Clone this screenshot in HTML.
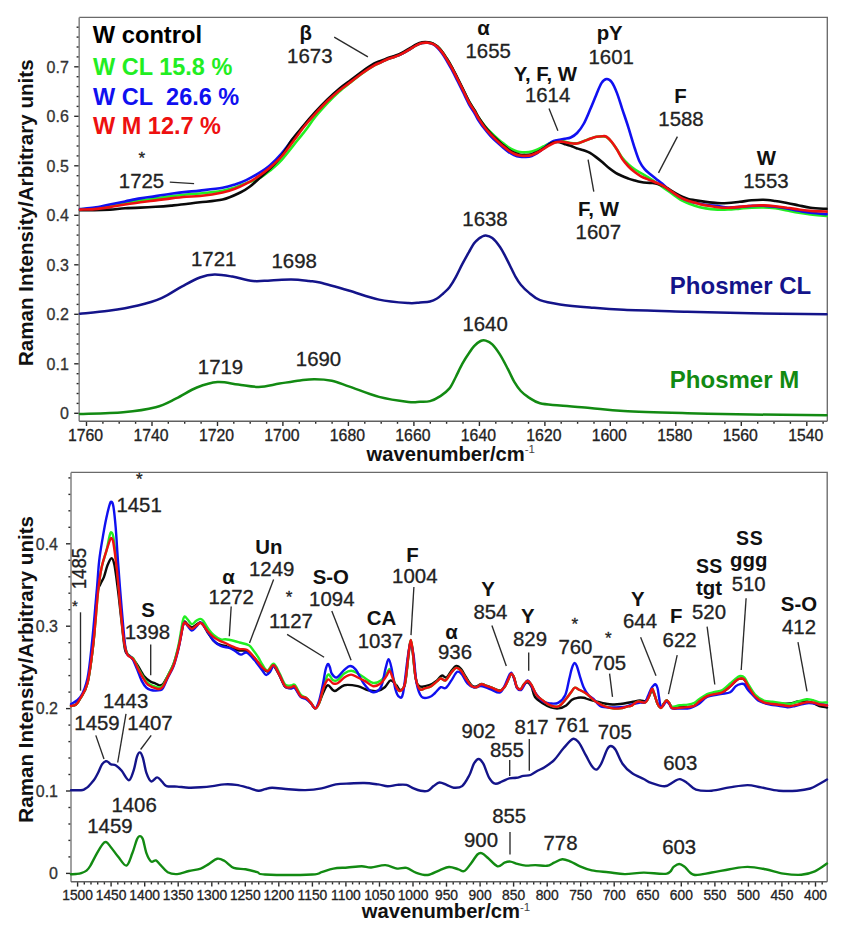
<!DOCTYPE html>
<html><head><meta charset="utf-8"><title>Raman spectra</title>
<style>html,body{margin:0;padding:0;background:#fff;}svg{display:block;font-family:"Liberation Sans",sans-serif;}</style>
</head><body>
<svg width="848" height="934" viewBox="0 0 848 934" font-family='"Liberation Sans", sans-serif'>
<rect width="848" height="934" fill="#fff"/>
<line x1="74.2" y1="413.3" x2="79.2" y2="413.3" stroke="#2a2a2a" stroke-width="1.40"/>
<line x1="76.6" y1="403.4" x2="79.2" y2="403.4" stroke="#2a2a2a" stroke-width="1.40"/>
<line x1="76.6" y1="393.5" x2="79.2" y2="393.5" stroke="#2a2a2a" stroke-width="1.40"/>
<line x1="76.6" y1="383.6" x2="79.2" y2="383.6" stroke="#2a2a2a" stroke-width="1.40"/>
<line x1="76.6" y1="373.7" x2="79.2" y2="373.7" stroke="#2a2a2a" stroke-width="1.40"/>
<line x1="74.2" y1="363.8" x2="79.2" y2="363.8" stroke="#2a2a2a" stroke-width="1.40"/>
<line x1="76.6" y1="353.9" x2="79.2" y2="353.9" stroke="#2a2a2a" stroke-width="1.40"/>
<line x1="76.6" y1="344.0" x2="79.2" y2="344.0" stroke="#2a2a2a" stroke-width="1.40"/>
<line x1="76.6" y1="334.1" x2="79.2" y2="334.1" stroke="#2a2a2a" stroke-width="1.40"/>
<line x1="76.6" y1="324.2" x2="79.2" y2="324.2" stroke="#2a2a2a" stroke-width="1.40"/>
<line x1="74.2" y1="314.3" x2="79.2" y2="314.3" stroke="#2a2a2a" stroke-width="1.40"/>
<line x1="76.6" y1="304.4" x2="79.2" y2="304.4" stroke="#2a2a2a" stroke-width="1.40"/>
<line x1="76.6" y1="294.5" x2="79.2" y2="294.5" stroke="#2a2a2a" stroke-width="1.40"/>
<line x1="76.6" y1="284.6" x2="79.2" y2="284.6" stroke="#2a2a2a" stroke-width="1.40"/>
<line x1="76.6" y1="274.7" x2="79.2" y2="274.7" stroke="#2a2a2a" stroke-width="1.40"/>
<line x1="74.2" y1="264.8" x2="79.2" y2="264.8" stroke="#2a2a2a" stroke-width="1.40"/>
<line x1="76.6" y1="254.9" x2="79.2" y2="254.9" stroke="#2a2a2a" stroke-width="1.40"/>
<line x1="76.6" y1="245.0" x2="79.2" y2="245.0" stroke="#2a2a2a" stroke-width="1.40"/>
<line x1="76.6" y1="235.1" x2="79.2" y2="235.1" stroke="#2a2a2a" stroke-width="1.40"/>
<line x1="76.6" y1="225.2" x2="79.2" y2="225.2" stroke="#2a2a2a" stroke-width="1.40"/>
<line x1="74.2" y1="215.3" x2="79.2" y2="215.3" stroke="#2a2a2a" stroke-width="1.40"/>
<line x1="76.6" y1="205.4" x2="79.2" y2="205.4" stroke="#2a2a2a" stroke-width="1.40"/>
<line x1="76.6" y1="195.5" x2="79.2" y2="195.5" stroke="#2a2a2a" stroke-width="1.40"/>
<line x1="76.6" y1="185.6" x2="79.2" y2="185.6" stroke="#2a2a2a" stroke-width="1.40"/>
<line x1="76.6" y1="175.7" x2="79.2" y2="175.7" stroke="#2a2a2a" stroke-width="1.40"/>
<line x1="74.2" y1="165.8" x2="79.2" y2="165.8" stroke="#2a2a2a" stroke-width="1.40"/>
<line x1="76.6" y1="155.9" x2="79.2" y2="155.9" stroke="#2a2a2a" stroke-width="1.40"/>
<line x1="76.6" y1="146.0" x2="79.2" y2="146.0" stroke="#2a2a2a" stroke-width="1.40"/>
<line x1="76.6" y1="136.1" x2="79.2" y2="136.1" stroke="#2a2a2a" stroke-width="1.40"/>
<line x1="76.6" y1="126.2" x2="79.2" y2="126.2" stroke="#2a2a2a" stroke-width="1.40"/>
<line x1="74.2" y1="116.3" x2="79.2" y2="116.3" stroke="#2a2a2a" stroke-width="1.40"/>
<line x1="76.6" y1="106.4" x2="79.2" y2="106.4" stroke="#2a2a2a" stroke-width="1.40"/>
<line x1="76.6" y1="96.5" x2="79.2" y2="96.5" stroke="#2a2a2a" stroke-width="1.40"/>
<line x1="76.6" y1="86.6" x2="79.2" y2="86.6" stroke="#2a2a2a" stroke-width="1.40"/>
<line x1="76.6" y1="76.7" x2="79.2" y2="76.7" stroke="#2a2a2a" stroke-width="1.40"/>
<line x1="74.2" y1="66.8" x2="79.2" y2="66.8" stroke="#2a2a2a" stroke-width="1.40"/>
<line x1="76.6" y1="56.9" x2="79.2" y2="56.9" stroke="#2a2a2a" stroke-width="1.40"/>
<line x1="76.6" y1="47.0" x2="79.2" y2="47.0" stroke="#2a2a2a" stroke-width="1.40"/>
<line x1="76.6" y1="37.1" x2="79.2" y2="37.1" stroke="#2a2a2a" stroke-width="1.40"/>
<line x1="76.6" y1="27.2" x2="79.2" y2="27.2" stroke="#2a2a2a" stroke-width="1.40"/>
<text x="68.8" y="419.1" font-size="16.0" stroke="#333" stroke-width="0.3" fill="#333" text-anchor="end">0</text>
<text x="68.8" y="369.6" font-size="16.0" stroke="#333" stroke-width="0.3" fill="#333" text-anchor="end">0.1</text>
<text x="68.8" y="320.1" font-size="16.0" stroke="#333" stroke-width="0.3" fill="#333" text-anchor="end">0.2</text>
<text x="68.8" y="270.6" font-size="16.0" stroke="#333" stroke-width="0.3" fill="#333" text-anchor="end">0.3</text>
<text x="68.8" y="221.1" font-size="16.0" stroke="#333" stroke-width="0.3" fill="#333" text-anchor="end">0.4</text>
<text x="68.8" y="171.6" font-size="16.0" stroke="#333" stroke-width="0.3" fill="#333" text-anchor="end">0.5</text>
<text x="68.8" y="122.1" font-size="16.0" stroke="#333" stroke-width="0.3" fill="#333" text-anchor="end">0.6</text>
<text x="68.8" y="72.6" font-size="16.0" stroke="#333" stroke-width="0.3" fill="#333" text-anchor="end">0.7</text>
<line x1="86.5" y1="421.2" x2="86.5" y2="426.0" stroke="#2a2a2a" stroke-width="1.40"/>
<text x="85.5" y="441.0" font-size="15.8" stroke="#222" stroke-width="0.3" fill="#222" text-anchor="middle">1760</text>
<line x1="102.9" y1="421.2" x2="102.9" y2="423.8" stroke="#2a2a2a" stroke-width="1.40"/>
<line x1="119.2" y1="421.2" x2="119.2" y2="423.8" stroke="#2a2a2a" stroke-width="1.40"/>
<line x1="135.6" y1="421.2" x2="135.6" y2="423.8" stroke="#2a2a2a" stroke-width="1.40"/>
<line x1="152.0" y1="421.2" x2="152.0" y2="426.0" stroke="#2a2a2a" stroke-width="1.40"/>
<text x="151.0" y="441.0" font-size="15.8" stroke="#222" stroke-width="0.3" fill="#222" text-anchor="middle">1740</text>
<line x1="168.3" y1="421.2" x2="168.3" y2="423.8" stroke="#2a2a2a" stroke-width="1.40"/>
<line x1="184.7" y1="421.2" x2="184.7" y2="423.8" stroke="#2a2a2a" stroke-width="1.40"/>
<line x1="201.1" y1="421.2" x2="201.1" y2="423.8" stroke="#2a2a2a" stroke-width="1.40"/>
<line x1="217.5" y1="421.2" x2="217.5" y2="426.0" stroke="#2a2a2a" stroke-width="1.40"/>
<text x="216.5" y="441.0" font-size="15.8" stroke="#222" stroke-width="0.3" fill="#222" text-anchor="middle">1720</text>
<line x1="233.8" y1="421.2" x2="233.8" y2="423.8" stroke="#2a2a2a" stroke-width="1.40"/>
<line x1="250.2" y1="421.2" x2="250.2" y2="423.8" stroke="#2a2a2a" stroke-width="1.40"/>
<line x1="266.6" y1="421.2" x2="266.6" y2="423.8" stroke="#2a2a2a" stroke-width="1.40"/>
<line x1="282.9" y1="421.2" x2="282.9" y2="426.0" stroke="#2a2a2a" stroke-width="1.40"/>
<text x="281.9" y="441.0" font-size="15.8" stroke="#222" stroke-width="0.3" fill="#222" text-anchor="middle">1700</text>
<line x1="299.3" y1="421.2" x2="299.3" y2="423.8" stroke="#2a2a2a" stroke-width="1.40"/>
<line x1="315.7" y1="421.2" x2="315.7" y2="423.8" stroke="#2a2a2a" stroke-width="1.40"/>
<line x1="332.1" y1="421.2" x2="332.1" y2="423.8" stroke="#2a2a2a" stroke-width="1.40"/>
<line x1="348.4" y1="421.2" x2="348.4" y2="426.0" stroke="#2a2a2a" stroke-width="1.40"/>
<text x="347.4" y="441.0" font-size="15.8" stroke="#222" stroke-width="0.3" fill="#222" text-anchor="middle">1680</text>
<line x1="364.8" y1="421.2" x2="364.8" y2="423.8" stroke="#2a2a2a" stroke-width="1.40"/>
<line x1="381.2" y1="421.2" x2="381.2" y2="423.8" stroke="#2a2a2a" stroke-width="1.40"/>
<line x1="397.5" y1="421.2" x2="397.5" y2="423.8" stroke="#2a2a2a" stroke-width="1.40"/>
<line x1="413.9" y1="421.2" x2="413.9" y2="426.0" stroke="#2a2a2a" stroke-width="1.40"/>
<text x="412.9" y="441.0" font-size="15.8" stroke="#222" stroke-width="0.3" fill="#222" text-anchor="middle">1660</text>
<line x1="430.3" y1="421.2" x2="430.3" y2="423.8" stroke="#2a2a2a" stroke-width="1.40"/>
<line x1="446.6" y1="421.2" x2="446.6" y2="423.8" stroke="#2a2a2a" stroke-width="1.40"/>
<line x1="463.0" y1="421.2" x2="463.0" y2="423.8" stroke="#2a2a2a" stroke-width="1.40"/>
<line x1="479.4" y1="421.2" x2="479.4" y2="426.0" stroke="#2a2a2a" stroke-width="1.40"/>
<text x="478.4" y="441.0" font-size="15.8" stroke="#222" stroke-width="0.3" fill="#222" text-anchor="middle">1640</text>
<line x1="495.8" y1="421.2" x2="495.8" y2="423.8" stroke="#2a2a2a" stroke-width="1.40"/>
<line x1="512.1" y1="421.2" x2="512.1" y2="423.8" stroke="#2a2a2a" stroke-width="1.40"/>
<line x1="528.5" y1="421.2" x2="528.5" y2="423.8" stroke="#2a2a2a" stroke-width="1.40"/>
<line x1="544.9" y1="421.2" x2="544.9" y2="426.0" stroke="#2a2a2a" stroke-width="1.40"/>
<text x="543.9" y="441.0" font-size="15.8" stroke="#222" stroke-width="0.3" fill="#222" text-anchor="middle">1620</text>
<line x1="561.2" y1="421.2" x2="561.2" y2="423.8" stroke="#2a2a2a" stroke-width="1.40"/>
<line x1="577.6" y1="421.2" x2="577.6" y2="423.8" stroke="#2a2a2a" stroke-width="1.40"/>
<line x1="594.0" y1="421.2" x2="594.0" y2="423.8" stroke="#2a2a2a" stroke-width="1.40"/>
<line x1="610.3" y1="421.2" x2="610.3" y2="426.0" stroke="#2a2a2a" stroke-width="1.40"/>
<text x="609.3" y="441.0" font-size="15.8" stroke="#222" stroke-width="0.3" fill="#222" text-anchor="middle">1600</text>
<line x1="626.7" y1="421.2" x2="626.7" y2="423.8" stroke="#2a2a2a" stroke-width="1.40"/>
<line x1="643.1" y1="421.2" x2="643.1" y2="423.8" stroke="#2a2a2a" stroke-width="1.40"/>
<line x1="659.5" y1="421.2" x2="659.5" y2="423.8" stroke="#2a2a2a" stroke-width="1.40"/>
<line x1="675.8" y1="421.2" x2="675.8" y2="426.0" stroke="#2a2a2a" stroke-width="1.40"/>
<text x="674.8" y="441.0" font-size="15.8" stroke="#222" stroke-width="0.3" fill="#222" text-anchor="middle">1580</text>
<line x1="692.2" y1="421.2" x2="692.2" y2="423.8" stroke="#2a2a2a" stroke-width="1.40"/>
<line x1="708.6" y1="421.2" x2="708.6" y2="423.8" stroke="#2a2a2a" stroke-width="1.40"/>
<line x1="724.9" y1="421.2" x2="724.9" y2="423.8" stroke="#2a2a2a" stroke-width="1.40"/>
<line x1="741.3" y1="421.2" x2="741.3" y2="426.0" stroke="#2a2a2a" stroke-width="1.40"/>
<text x="740.3" y="441.0" font-size="15.8" stroke="#222" stroke-width="0.3" fill="#222" text-anchor="middle">1560</text>
<line x1="757.7" y1="421.2" x2="757.7" y2="423.8" stroke="#2a2a2a" stroke-width="1.40"/>
<line x1="774.0" y1="421.2" x2="774.0" y2="423.8" stroke="#2a2a2a" stroke-width="1.40"/>
<line x1="790.4" y1="421.2" x2="790.4" y2="423.8" stroke="#2a2a2a" stroke-width="1.40"/>
<line x1="806.8" y1="421.2" x2="806.8" y2="426.0" stroke="#2a2a2a" stroke-width="1.40"/>
<text x="805.8" y="441.0" font-size="15.8" stroke="#222" stroke-width="0.3" fill="#222" text-anchor="middle">1540</text>
<line x1="823.1" y1="421.2" x2="823.1" y2="423.8" stroke="#2a2a2a" stroke-width="1.40"/>
<line x1="66.0" y1="873.4" x2="71.0" y2="873.4" stroke="#2a2a2a" stroke-width="1.40"/>
<line x1="68.4" y1="856.9" x2="71.0" y2="856.9" stroke="#2a2a2a" stroke-width="1.40"/>
<line x1="68.4" y1="840.4" x2="71.0" y2="840.4" stroke="#2a2a2a" stroke-width="1.40"/>
<line x1="68.4" y1="824.0" x2="71.0" y2="824.0" stroke="#2a2a2a" stroke-width="1.40"/>
<line x1="68.4" y1="807.5" x2="71.0" y2="807.5" stroke="#2a2a2a" stroke-width="1.40"/>
<line x1="66.0" y1="791.0" x2="71.0" y2="791.0" stroke="#2a2a2a" stroke-width="1.40"/>
<line x1="68.4" y1="774.5" x2="71.0" y2="774.5" stroke="#2a2a2a" stroke-width="1.40"/>
<line x1="68.4" y1="758.0" x2="71.0" y2="758.0" stroke="#2a2a2a" stroke-width="1.40"/>
<line x1="68.4" y1="741.6" x2="71.0" y2="741.6" stroke="#2a2a2a" stroke-width="1.40"/>
<line x1="68.4" y1="725.1" x2="71.0" y2="725.1" stroke="#2a2a2a" stroke-width="1.40"/>
<line x1="66.0" y1="708.6" x2="71.0" y2="708.6" stroke="#2a2a2a" stroke-width="1.40"/>
<line x1="68.4" y1="692.1" x2="71.0" y2="692.1" stroke="#2a2a2a" stroke-width="1.40"/>
<line x1="68.4" y1="675.6" x2="71.0" y2="675.6" stroke="#2a2a2a" stroke-width="1.40"/>
<line x1="68.4" y1="659.2" x2="71.0" y2="659.2" stroke="#2a2a2a" stroke-width="1.40"/>
<line x1="68.4" y1="642.7" x2="71.0" y2="642.7" stroke="#2a2a2a" stroke-width="1.40"/>
<line x1="66.0" y1="626.2" x2="71.0" y2="626.2" stroke="#2a2a2a" stroke-width="1.40"/>
<line x1="68.4" y1="609.7" x2="71.0" y2="609.7" stroke="#2a2a2a" stroke-width="1.40"/>
<line x1="68.4" y1="593.2" x2="71.0" y2="593.2" stroke="#2a2a2a" stroke-width="1.40"/>
<line x1="68.4" y1="576.8" x2="71.0" y2="576.8" stroke="#2a2a2a" stroke-width="1.40"/>
<line x1="68.4" y1="560.3" x2="71.0" y2="560.3" stroke="#2a2a2a" stroke-width="1.40"/>
<line x1="66.0" y1="543.8" x2="71.0" y2="543.8" stroke="#2a2a2a" stroke-width="1.40"/>
<line x1="68.4" y1="527.3" x2="71.0" y2="527.3" stroke="#2a2a2a" stroke-width="1.40"/>
<line x1="68.4" y1="510.8" x2="71.0" y2="510.8" stroke="#2a2a2a" stroke-width="1.40"/>
<line x1="68.4" y1="494.4" x2="71.0" y2="494.4" stroke="#2a2a2a" stroke-width="1.40"/>
<line x1="68.4" y1="477.9" x2="71.0" y2="477.9" stroke="#2a2a2a" stroke-width="1.40"/>
<text x="58.0" y="879.2" font-size="16.0" stroke="#333" stroke-width="0.3" fill="#333" text-anchor="end">0</text>
<text x="58.0" y="796.8" font-size="16.0" stroke="#333" stroke-width="0.3" fill="#333" text-anchor="end">0.1</text>
<text x="58.0" y="714.4" font-size="16.0" stroke="#333" stroke-width="0.3" fill="#333" text-anchor="end">0.2</text>
<text x="58.0" y="632.0" font-size="16.0" stroke="#333" stroke-width="0.3" fill="#333" text-anchor="end">0.3</text>
<text x="58.0" y="549.6" font-size="16.0" stroke="#333" stroke-width="0.3" fill="#333" text-anchor="end">0.4</text>
<line x1="77.6" y1="881.8" x2="77.6" y2="886.6" stroke="#2a2a2a" stroke-width="1.40"/>
<text x="77.6" y="899.6" font-size="13.8" stroke="#222" stroke-width="0.3" fill="#222" text-anchor="middle">1500</text>
<line x1="84.3" y1="881.8" x2="84.3" y2="884.4" stroke="#2a2a2a" stroke-width="1.40"/>
<line x1="91.0" y1="881.8" x2="91.0" y2="884.4" stroke="#2a2a2a" stroke-width="1.40"/>
<line x1="97.7" y1="881.8" x2="97.7" y2="884.4" stroke="#2a2a2a" stroke-width="1.40"/>
<line x1="104.4" y1="881.8" x2="104.4" y2="884.4" stroke="#2a2a2a" stroke-width="1.40"/>
<line x1="111.1" y1="881.8" x2="111.1" y2="886.6" stroke="#2a2a2a" stroke-width="1.40"/>
<text x="111.1" y="899.6" font-size="13.8" stroke="#222" stroke-width="0.3" fill="#222" text-anchor="middle">1450</text>
<line x1="117.8" y1="881.8" x2="117.8" y2="884.4" stroke="#2a2a2a" stroke-width="1.40"/>
<line x1="124.6" y1="881.8" x2="124.6" y2="884.4" stroke="#2a2a2a" stroke-width="1.40"/>
<line x1="131.3" y1="881.8" x2="131.3" y2="884.4" stroke="#2a2a2a" stroke-width="1.40"/>
<line x1="138.0" y1="881.8" x2="138.0" y2="884.4" stroke="#2a2a2a" stroke-width="1.40"/>
<line x1="144.7" y1="881.8" x2="144.7" y2="886.6" stroke="#2a2a2a" stroke-width="1.40"/>
<text x="144.7" y="899.6" font-size="13.8" stroke="#222" stroke-width="0.3" fill="#222" text-anchor="middle">1400</text>
<line x1="151.4" y1="881.8" x2="151.4" y2="884.4" stroke="#2a2a2a" stroke-width="1.40"/>
<line x1="158.1" y1="881.8" x2="158.1" y2="884.4" stroke="#2a2a2a" stroke-width="1.40"/>
<line x1="164.8" y1="881.8" x2="164.8" y2="884.4" stroke="#2a2a2a" stroke-width="1.40"/>
<line x1="171.5" y1="881.8" x2="171.5" y2="884.4" stroke="#2a2a2a" stroke-width="1.40"/>
<line x1="178.2" y1="881.8" x2="178.2" y2="886.6" stroke="#2a2a2a" stroke-width="1.40"/>
<text x="178.2" y="899.6" font-size="13.8" stroke="#222" stroke-width="0.3" fill="#222" text-anchor="middle">1350</text>
<line x1="184.9" y1="881.8" x2="184.9" y2="884.4" stroke="#2a2a2a" stroke-width="1.40"/>
<line x1="191.6" y1="881.8" x2="191.6" y2="884.4" stroke="#2a2a2a" stroke-width="1.40"/>
<line x1="198.3" y1="881.8" x2="198.3" y2="884.4" stroke="#2a2a2a" stroke-width="1.40"/>
<line x1="205.1" y1="881.8" x2="205.1" y2="884.4" stroke="#2a2a2a" stroke-width="1.40"/>
<line x1="211.8" y1="881.8" x2="211.8" y2="886.6" stroke="#2a2a2a" stroke-width="1.40"/>
<text x="211.8" y="899.6" font-size="13.8" stroke="#222" stroke-width="0.3" fill="#222" text-anchor="middle">1300</text>
<line x1="218.5" y1="881.8" x2="218.5" y2="884.4" stroke="#2a2a2a" stroke-width="1.40"/>
<line x1="225.2" y1="881.8" x2="225.2" y2="884.4" stroke="#2a2a2a" stroke-width="1.40"/>
<line x1="231.9" y1="881.8" x2="231.9" y2="884.4" stroke="#2a2a2a" stroke-width="1.40"/>
<line x1="238.6" y1="881.8" x2="238.6" y2="884.4" stroke="#2a2a2a" stroke-width="1.40"/>
<line x1="245.3" y1="881.8" x2="245.3" y2="886.6" stroke="#2a2a2a" stroke-width="1.40"/>
<text x="245.3" y="899.6" font-size="13.8" stroke="#222" stroke-width="0.3" fill="#222" text-anchor="middle">1250</text>
<line x1="252.0" y1="881.8" x2="252.0" y2="884.4" stroke="#2a2a2a" stroke-width="1.40"/>
<line x1="258.7" y1="881.8" x2="258.7" y2="884.4" stroke="#2a2a2a" stroke-width="1.40"/>
<line x1="265.4" y1="881.8" x2="265.4" y2="884.4" stroke="#2a2a2a" stroke-width="1.40"/>
<line x1="272.1" y1="881.8" x2="272.1" y2="884.4" stroke="#2a2a2a" stroke-width="1.40"/>
<line x1="278.8" y1="881.8" x2="278.8" y2="886.6" stroke="#2a2a2a" stroke-width="1.40"/>
<text x="278.8" y="899.6" font-size="13.8" stroke="#222" stroke-width="0.3" fill="#222" text-anchor="middle">1200</text>
<line x1="285.5" y1="881.8" x2="285.5" y2="884.4" stroke="#2a2a2a" stroke-width="1.40"/>
<line x1="292.3" y1="881.8" x2="292.3" y2="884.4" stroke="#2a2a2a" stroke-width="1.40"/>
<line x1="299.0" y1="881.8" x2="299.0" y2="884.4" stroke="#2a2a2a" stroke-width="1.40"/>
<line x1="305.7" y1="881.8" x2="305.7" y2="884.4" stroke="#2a2a2a" stroke-width="1.40"/>
<line x1="312.4" y1="881.8" x2="312.4" y2="886.6" stroke="#2a2a2a" stroke-width="1.40"/>
<text x="312.4" y="899.6" font-size="13.8" stroke="#222" stroke-width="0.3" fill="#222" text-anchor="middle">1150</text>
<line x1="319.1" y1="881.8" x2="319.1" y2="884.4" stroke="#2a2a2a" stroke-width="1.40"/>
<line x1="325.8" y1="881.8" x2="325.8" y2="884.4" stroke="#2a2a2a" stroke-width="1.40"/>
<line x1="332.5" y1="881.8" x2="332.5" y2="884.4" stroke="#2a2a2a" stroke-width="1.40"/>
<line x1="339.2" y1="881.8" x2="339.2" y2="884.4" stroke="#2a2a2a" stroke-width="1.40"/>
<line x1="345.9" y1="881.8" x2="345.9" y2="886.6" stroke="#2a2a2a" stroke-width="1.40"/>
<text x="345.9" y="899.6" font-size="13.8" stroke="#222" stroke-width="0.3" fill="#222" text-anchor="middle">1100</text>
<line x1="352.6" y1="881.8" x2="352.6" y2="884.4" stroke="#2a2a2a" stroke-width="1.40"/>
<line x1="359.3" y1="881.8" x2="359.3" y2="884.4" stroke="#2a2a2a" stroke-width="1.40"/>
<line x1="366.0" y1="881.8" x2="366.0" y2="884.4" stroke="#2a2a2a" stroke-width="1.40"/>
<line x1="372.8" y1="881.8" x2="372.8" y2="884.4" stroke="#2a2a2a" stroke-width="1.40"/>
<line x1="379.5" y1="881.8" x2="379.5" y2="886.6" stroke="#2a2a2a" stroke-width="1.40"/>
<text x="379.5" y="899.6" font-size="13.8" stroke="#222" stroke-width="0.3" fill="#222" text-anchor="middle">1050</text>
<line x1="386.2" y1="881.8" x2="386.2" y2="884.4" stroke="#2a2a2a" stroke-width="1.40"/>
<line x1="392.9" y1="881.8" x2="392.9" y2="884.4" stroke="#2a2a2a" stroke-width="1.40"/>
<line x1="399.6" y1="881.8" x2="399.6" y2="884.4" stroke="#2a2a2a" stroke-width="1.40"/>
<line x1="406.3" y1="881.8" x2="406.3" y2="884.4" stroke="#2a2a2a" stroke-width="1.40"/>
<line x1="413.0" y1="881.8" x2="413.0" y2="886.6" stroke="#2a2a2a" stroke-width="1.40"/>
<text x="413.0" y="899.6" font-size="13.8" stroke="#222" stroke-width="0.3" fill="#222" text-anchor="middle">1000</text>
<line x1="419.7" y1="881.8" x2="419.7" y2="884.4" stroke="#2a2a2a" stroke-width="1.40"/>
<line x1="426.4" y1="881.8" x2="426.4" y2="884.4" stroke="#2a2a2a" stroke-width="1.40"/>
<line x1="433.1" y1="881.8" x2="433.1" y2="884.4" stroke="#2a2a2a" stroke-width="1.40"/>
<line x1="439.8" y1="881.8" x2="439.8" y2="884.4" stroke="#2a2a2a" stroke-width="1.40"/>
<line x1="446.5" y1="881.8" x2="446.5" y2="886.6" stroke="#2a2a2a" stroke-width="1.40"/>
<text x="446.5" y="899.6" font-size="13.8" stroke="#222" stroke-width="0.3" fill="#222" text-anchor="middle">950</text>
<line x1="453.2" y1="881.8" x2="453.2" y2="884.4" stroke="#2a2a2a" stroke-width="1.40"/>
<line x1="460.0" y1="881.8" x2="460.0" y2="884.4" stroke="#2a2a2a" stroke-width="1.40"/>
<line x1="466.7" y1="881.8" x2="466.7" y2="884.4" stroke="#2a2a2a" stroke-width="1.40"/>
<line x1="473.4" y1="881.8" x2="473.4" y2="884.4" stroke="#2a2a2a" stroke-width="1.40"/>
<line x1="480.1" y1="881.8" x2="480.1" y2="886.6" stroke="#2a2a2a" stroke-width="1.40"/>
<text x="480.1" y="899.6" font-size="13.8" stroke="#222" stroke-width="0.3" fill="#222" text-anchor="middle">900</text>
<line x1="486.8" y1="881.8" x2="486.8" y2="884.4" stroke="#2a2a2a" stroke-width="1.40"/>
<line x1="493.5" y1="881.8" x2="493.5" y2="884.4" stroke="#2a2a2a" stroke-width="1.40"/>
<line x1="500.2" y1="881.8" x2="500.2" y2="884.4" stroke="#2a2a2a" stroke-width="1.40"/>
<line x1="506.9" y1="881.8" x2="506.9" y2="884.4" stroke="#2a2a2a" stroke-width="1.40"/>
<line x1="513.6" y1="881.8" x2="513.6" y2="886.6" stroke="#2a2a2a" stroke-width="1.40"/>
<text x="513.6" y="899.6" font-size="13.8" stroke="#222" stroke-width="0.3" fill="#222" text-anchor="middle">850</text>
<line x1="520.3" y1="881.8" x2="520.3" y2="884.4" stroke="#2a2a2a" stroke-width="1.40"/>
<line x1="527.0" y1="881.8" x2="527.0" y2="884.4" stroke="#2a2a2a" stroke-width="1.40"/>
<line x1="533.7" y1="881.8" x2="533.7" y2="884.4" stroke="#2a2a2a" stroke-width="1.40"/>
<line x1="540.5" y1="881.8" x2="540.5" y2="884.4" stroke="#2a2a2a" stroke-width="1.40"/>
<line x1="547.2" y1="881.8" x2="547.2" y2="886.6" stroke="#2a2a2a" stroke-width="1.40"/>
<text x="547.2" y="899.6" font-size="13.8" stroke="#222" stroke-width="0.3" fill="#222" text-anchor="middle">800</text>
<line x1="553.9" y1="881.8" x2="553.9" y2="884.4" stroke="#2a2a2a" stroke-width="1.40"/>
<line x1="560.6" y1="881.8" x2="560.6" y2="884.4" stroke="#2a2a2a" stroke-width="1.40"/>
<line x1="567.3" y1="881.8" x2="567.3" y2="884.4" stroke="#2a2a2a" stroke-width="1.40"/>
<line x1="574.0" y1="881.8" x2="574.0" y2="884.4" stroke="#2a2a2a" stroke-width="1.40"/>
<line x1="580.7" y1="881.8" x2="580.7" y2="886.6" stroke="#2a2a2a" stroke-width="1.40"/>
<text x="580.7" y="899.6" font-size="13.8" stroke="#222" stroke-width="0.3" fill="#222" text-anchor="middle">750</text>
<line x1="587.4" y1="881.8" x2="587.4" y2="884.4" stroke="#2a2a2a" stroke-width="1.40"/>
<line x1="594.1" y1="881.8" x2="594.1" y2="884.4" stroke="#2a2a2a" stroke-width="1.40"/>
<line x1="600.8" y1="881.8" x2="600.8" y2="884.4" stroke="#2a2a2a" stroke-width="1.40"/>
<line x1="607.5" y1="881.8" x2="607.5" y2="884.4" stroke="#2a2a2a" stroke-width="1.40"/>
<line x1="614.2" y1="881.8" x2="614.2" y2="886.6" stroke="#2a2a2a" stroke-width="1.40"/>
<text x="614.2" y="899.6" font-size="13.8" stroke="#222" stroke-width="0.3" fill="#222" text-anchor="middle">700</text>
<line x1="620.9" y1="881.8" x2="620.9" y2="884.4" stroke="#2a2a2a" stroke-width="1.40"/>
<line x1="627.7" y1="881.8" x2="627.7" y2="884.4" stroke="#2a2a2a" stroke-width="1.40"/>
<line x1="634.4" y1="881.8" x2="634.4" y2="884.4" stroke="#2a2a2a" stroke-width="1.40"/>
<line x1="641.1" y1="881.8" x2="641.1" y2="884.4" stroke="#2a2a2a" stroke-width="1.40"/>
<line x1="647.8" y1="881.8" x2="647.8" y2="886.6" stroke="#2a2a2a" stroke-width="1.40"/>
<text x="647.8" y="899.6" font-size="13.8" stroke="#222" stroke-width="0.3" fill="#222" text-anchor="middle">650</text>
<line x1="654.5" y1="881.8" x2="654.5" y2="884.4" stroke="#2a2a2a" stroke-width="1.40"/>
<line x1="661.2" y1="881.8" x2="661.2" y2="884.4" stroke="#2a2a2a" stroke-width="1.40"/>
<line x1="667.9" y1="881.8" x2="667.9" y2="884.4" stroke="#2a2a2a" stroke-width="1.40"/>
<line x1="674.6" y1="881.8" x2="674.6" y2="884.4" stroke="#2a2a2a" stroke-width="1.40"/>
<line x1="681.3" y1="881.8" x2="681.3" y2="886.6" stroke="#2a2a2a" stroke-width="1.40"/>
<text x="681.3" y="899.6" font-size="13.8" stroke="#222" stroke-width="0.3" fill="#222" text-anchor="middle">600</text>
<line x1="688.0" y1="881.8" x2="688.0" y2="884.4" stroke="#2a2a2a" stroke-width="1.40"/>
<line x1="694.7" y1="881.8" x2="694.7" y2="884.4" stroke="#2a2a2a" stroke-width="1.40"/>
<line x1="701.4" y1="881.8" x2="701.4" y2="884.4" stroke="#2a2a2a" stroke-width="1.40"/>
<line x1="708.2" y1="881.8" x2="708.2" y2="884.4" stroke="#2a2a2a" stroke-width="1.40"/>
<line x1="714.9" y1="881.8" x2="714.9" y2="886.6" stroke="#2a2a2a" stroke-width="1.40"/>
<text x="714.9" y="899.6" font-size="13.8" stroke="#222" stroke-width="0.3" fill="#222" text-anchor="middle">550</text>
<line x1="721.6" y1="881.8" x2="721.6" y2="884.4" stroke="#2a2a2a" stroke-width="1.40"/>
<line x1="728.3" y1="881.8" x2="728.3" y2="884.4" stroke="#2a2a2a" stroke-width="1.40"/>
<line x1="735.0" y1="881.8" x2="735.0" y2="884.4" stroke="#2a2a2a" stroke-width="1.40"/>
<line x1="741.7" y1="881.8" x2="741.7" y2="884.4" stroke="#2a2a2a" stroke-width="1.40"/>
<line x1="748.4" y1="881.8" x2="748.4" y2="886.6" stroke="#2a2a2a" stroke-width="1.40"/>
<text x="748.4" y="899.6" font-size="13.8" stroke="#222" stroke-width="0.3" fill="#222" text-anchor="middle">500</text>
<line x1="755.1" y1="881.8" x2="755.1" y2="884.4" stroke="#2a2a2a" stroke-width="1.40"/>
<line x1="761.8" y1="881.8" x2="761.8" y2="884.4" stroke="#2a2a2a" stroke-width="1.40"/>
<line x1="768.5" y1="881.8" x2="768.5" y2="884.4" stroke="#2a2a2a" stroke-width="1.40"/>
<line x1="775.2" y1="881.8" x2="775.2" y2="884.4" stroke="#2a2a2a" stroke-width="1.40"/>
<line x1="781.9" y1="881.8" x2="781.9" y2="886.6" stroke="#2a2a2a" stroke-width="1.40"/>
<text x="781.9" y="899.6" font-size="13.8" stroke="#222" stroke-width="0.3" fill="#222" text-anchor="middle">450</text>
<line x1="788.6" y1="881.8" x2="788.6" y2="884.4" stroke="#2a2a2a" stroke-width="1.40"/>
<line x1="795.4" y1="881.8" x2="795.4" y2="884.4" stroke="#2a2a2a" stroke-width="1.40"/>
<line x1="802.1" y1="881.8" x2="802.1" y2="884.4" stroke="#2a2a2a" stroke-width="1.40"/>
<line x1="808.8" y1="881.8" x2="808.8" y2="884.4" stroke="#2a2a2a" stroke-width="1.40"/>
<line x1="815.5" y1="881.8" x2="815.5" y2="886.6" stroke="#2a2a2a" stroke-width="1.40"/>
<text x="815.5" y="899.6" font-size="13.8" stroke="#222" stroke-width="0.3" fill="#222" text-anchor="middle">400</text>
<line x1="822.2" y1="881.8" x2="822.2" y2="884.4" stroke="#2a2a2a" stroke-width="1.40"/>
<path d="M79.2,17.4 H827.3 V421.2" fill="none" stroke="#6a6a6a" stroke-width="1.35"/>
<line x1="79.2" y1="17.4" x2="79.2" y2="421.2" stroke="#8a8a8a" stroke-width="1.6"/>
<line x1="79.2" y1="421.2" x2="827.3" y2="421.2" stroke="#606060" stroke-width="1.4"/>
<path d="M71.0,472.4 H827.2 V881.8" fill="none" stroke="#6a6a6a" stroke-width="1.35"/>
<line x1="71.0" y1="472.4" x2="71.0" y2="881.8" stroke="#8a8a8a" stroke-width="1.6"/>
<line x1="71.0" y1="881.8" x2="827.2" y2="881.8" stroke="#606060" stroke-width="1.4"/>
<text x="366.5" y="460.5" font-size="20.2" font-weight="bold" fill="#111" text-anchor="start">wavenumber/cm<tspan font-size="11.5" font-weight="normal" fill="#444" dy="-7.3">-1</tspan></text>
<text x="361.8" y="918.0" font-size="20.2" font-weight="bold" fill="#111" text-anchor="start">wavenumber/cm<tspan font-size="11.5" font-weight="normal" fill="#444" dy="-7.3">-1</tspan></text>
<text transform="translate(32.6,212.7) rotate(-90)" font-size="20.6" font-weight="bold" fill="#111" text-anchor="middle">Raman Intensity/Arbitrary units</text>
<text transform="translate(32.6,669.3) rotate(-90)" font-size="20.6" font-weight="bold" fill="#111" text-anchor="middle">Raman Intensity/Arbitrary units</text>
<path d="M80.0,313.7 C84.8,313.2 98.8,312.2 108.5,310.8 C118.2,309.4 129.2,307.6 138.0,305.5 C146.8,303.4 154.1,301.3 161.5,298.1 C168.9,294.9 175.8,289.7 182.2,286.3 C188.6,282.9 194.5,279.5 199.9,277.5 C205.3,275.5 209.2,274.6 214.6,274.5 C220.0,274.4 225.9,275.5 232.3,276.6 C238.7,277.7 246.6,280.4 253.0,281.0 C259.4,281.6 264.2,280.6 270.6,280.4 C277.0,280.2 284.9,279.5 291.3,279.6 C297.7,279.7 304.2,280.5 309.0,281.0 C313.8,281.5 313.2,280.9 320.0,282.5 C326.8,284.1 339.7,287.9 349.5,290.8 C359.3,293.7 369.2,297.6 379.0,299.6 C388.8,301.7 401.6,302.6 408.4,303.1 C415.2,303.6 416.4,302.8 420.0,302.5 C423.6,302.2 427.2,302.2 430.0,301.5 C432.8,300.8 434.8,299.8 437.0,298.5 C439.2,297.2 440.9,295.6 443.0,293.7 C445.1,291.8 447.4,290.1 449.5,287.3 C451.6,284.5 453.8,280.8 455.9,276.9 C458.0,273.0 460.2,268.0 462.4,263.9 C464.6,259.8 466.9,255.6 468.9,252.2 C470.8,248.8 472.4,245.5 474.1,243.2 C475.8,240.9 477.7,239.6 479.0,238.5 C480.3,237.4 480.8,237.2 481.9,236.7 C483.0,236.2 484.1,235.2 485.8,235.4 C487.5,235.6 489.9,236.1 492.3,238.0 C494.7,239.9 497.9,244.0 500.0,247.0 C502.1,250.0 503.5,252.9 505.2,256.1 C506.9,259.4 508.7,263.0 510.4,266.5 C512.1,270.0 513.9,273.9 515.6,276.9 C517.3,279.9 518.6,282.1 520.8,284.7 C523.0,287.3 525.4,289.8 528.6,292.4 C531.8,295.0 534.8,298.2 540.0,300.2 C545.2,302.2 551.7,303.2 560.0,304.4 C568.3,305.6 579.4,306.6 590.0,307.5 C600.6,308.4 607.5,309.1 623.7,309.8 C639.9,310.5 666.1,311.1 687.3,311.7 C708.5,312.3 727.8,312.9 751.0,313.3 C774.2,313.7 813.9,314.1 826.5,314.2" fill="none" stroke="#14148a" stroke-width="2.50" stroke-linejoin="round" stroke-linecap="round"/>
<path d="M80.0,414.0 C87.2,413.7 110.6,413.3 123.2,412.2 C135.8,411.1 146.8,409.5 155.7,407.2 C164.5,404.9 169.4,401.7 176.3,398.4 C183.2,395.1 190.0,390.2 196.9,387.5 C203.8,384.8 210.7,382.6 217.6,382.1 C224.5,381.6 231.3,383.7 238.2,384.5 C245.1,385.3 251.9,387.0 258.8,386.9 C265.7,386.8 272.6,384.7 279.5,383.6 C286.4,382.5 294.2,381.1 300.1,380.4 C306.0,379.7 309.5,379.1 314.8,379.2 C320.1,379.2 326.0,379.5 331.8,380.7 C337.6,381.9 341.6,383.9 349.5,386.6 C357.4,389.3 369.2,394.3 379.0,396.9 C388.8,399.4 401.6,401.1 408.4,401.9 C415.2,402.7 416.4,401.9 420.0,401.8 C423.6,401.7 426.6,402.1 430.0,401.1 C433.4,400.2 437.1,398.2 440.4,396.1 C443.6,394.0 446.9,391.6 449.5,388.4 C452.1,385.2 453.8,380.8 455.9,376.7 C458.0,372.6 460.2,367.6 462.4,363.7 C464.6,359.8 466.9,356.2 468.9,353.3 C470.8,350.4 472.2,348.2 474.1,346.2 C476.1,344.1 478.7,341.9 480.6,341.0 C482.6,340.1 483.9,340.1 485.8,340.6 C487.8,341.2 489.9,342.0 492.3,344.3 C494.7,346.6 497.4,350.5 500.0,354.6 C502.6,358.7 505.4,364.3 507.8,368.9 C510.2,373.4 512.1,378.2 514.3,381.9 C516.5,385.6 518.4,388.4 520.8,391.0 C523.2,393.6 525.4,395.3 528.6,397.4 C531.8,399.4 534.8,401.9 540.0,403.3 C545.2,404.7 551.7,404.7 560.0,405.5 C568.3,406.3 579.4,407.1 590.0,408.0 C600.6,408.9 607.5,410.1 623.7,411.0 C639.9,411.9 666.1,412.6 687.3,413.2 C708.5,413.8 727.8,414.2 751.0,414.5 C774.2,414.8 813.9,415.1 826.5,415.2" fill="none" stroke="#128a12" stroke-width="2.50" stroke-linejoin="round" stroke-linecap="round"/>
<path d="M80.0,209.3 C82.4,209.1 89.3,208.9 94.3,208.3 C99.2,207.7 104.6,206.7 109.7,205.8 C114.8,204.9 119.9,203.9 125.0,203.0 C130.1,202.1 135.2,201.2 140.3,200.4 C145.4,199.6 150.6,199.1 155.7,198.4 C160.8,197.7 165.9,197.1 171.0,196.4 C176.1,195.8 181.5,195.0 186.3,194.5 C191.1,194.0 193.9,194.1 200.0,193.5 C206.1,192.9 216.8,191.7 222.6,190.7 C228.4,189.7 231.1,188.8 235.0,187.5 C238.9,186.2 242.4,184.5 246.2,183.1 C250.0,181.7 254.1,181.1 258.0,179.0 C261.9,176.9 265.9,173.8 269.8,170.7 C273.7,167.5 276.9,165.2 281.5,160.1 C286.1,155.0 293.5,145.2 297.7,140.0 C301.9,134.8 303.6,132.9 306.5,129.0 C309.4,125.1 311.9,121.0 315.4,116.7 C318.8,112.4 323.3,107.5 327.2,103.3 C331.1,99.1 335.1,95.2 339.0,91.7 C342.9,88.2 346.9,85.3 350.8,82.2 C354.7,79.1 358.6,76.0 362.5,73.2 C366.4,70.4 371.2,67.3 374.3,65.5 C377.4,63.7 378.8,63.4 380.9,62.4 C383.0,61.4 384.8,60.3 386.8,59.5 C388.8,58.7 390.7,58.1 392.7,57.4 C394.7,56.7 396.6,56.2 398.6,55.4 C400.6,54.6 402.5,53.5 404.5,52.4 C406.5,51.3 408.4,50.1 410.4,48.9 C412.4,47.7 414.3,46.3 416.3,45.3 C418.3,44.3 420.2,43.5 422.2,43.0 C424.2,42.5 426.3,42.5 428.1,42.6 C429.9,42.7 431.2,42.9 432.8,43.6 C434.4,44.3 435.9,45.2 437.5,46.6 C439.1,48.0 440.6,49.7 442.2,51.7 C443.8,53.7 445.3,56.2 446.9,58.8 C448.5,61.3 449.9,63.7 451.7,67.0 C453.5,70.3 455.6,74.8 457.5,78.5 C459.4,82.2 461.1,85.7 463.0,89.5 C464.9,93.3 467.0,97.9 469.0,101.5 C471.0,105.1 473.4,108.3 475.0,111.0 C476.6,113.7 477.0,115.1 478.6,117.5 C480.2,119.9 482.5,123.1 484.5,125.5 C486.5,127.9 488.4,130.0 490.4,132.0 C492.4,134.0 494.3,135.8 496.3,137.5 C498.3,139.2 500.2,140.9 502.2,142.5 C504.2,144.1 506.1,145.7 508.1,147.0 C510.1,148.3 512.0,149.4 514.0,150.2 C516.0,151.0 517.9,151.7 519.9,152.0 C521.9,152.3 523.8,152.4 525.8,152.3 C527.8,152.2 529.8,152.0 531.7,151.5 C533.7,151.0 535.5,150.3 537.5,149.5 C539.5,148.7 541.4,147.5 543.4,146.5 C545.4,145.5 547.4,144.3 549.3,143.5 C551.2,142.7 553.2,141.9 555.0,141.5 C556.8,141.1 558.5,141.0 560.0,141.0 C561.5,141.0 562.5,141.2 564.3,141.5 C566.1,141.8 568.6,142.7 570.7,143.0 C572.8,143.3 575.0,143.6 577.1,143.3 C579.2,143.0 581.5,141.9 583.6,141.2 C585.8,140.4 587.9,139.5 590.0,138.8 C592.1,138.1 594.3,137.2 596.4,136.8 C598.5,136.4 601.1,136.3 602.8,136.4 C604.5,136.5 605.2,136.2 606.7,137.2 C608.2,138.2 610.1,140.2 611.8,142.3 C613.5,144.4 615.3,147.0 617.0,149.5 C618.7,152.0 620.2,155.0 622.1,157.5 C624.0,160.0 626.4,162.5 628.5,164.5 C630.6,166.5 632.9,168.1 635.0,169.5 C637.1,170.9 638.9,171.8 640.9,173.0 C642.9,174.2 643.8,174.6 646.8,176.5 C649.8,178.4 654.7,181.5 658.6,184.2 C662.5,186.9 666.5,189.8 670.4,192.5 C674.3,195.2 678.3,198.5 682.2,200.7 C686.1,202.8 690.1,204.1 694.0,205.4 C697.9,206.7 701.9,207.7 705.8,208.4 C709.7,209.1 713.8,209.4 717.5,209.6 C721.2,209.8 724.3,209.7 728.0,209.5 C731.7,209.3 735.9,208.9 739.8,208.6 C743.7,208.3 747.7,207.9 751.6,207.7 C755.5,207.5 759.5,207.3 763.4,207.4 C767.3,207.5 771.3,207.8 775.2,208.3 C779.1,208.8 783.1,209.7 787.0,210.4 C790.9,211.2 794.9,212.1 798.8,212.8 C802.7,213.5 805.9,213.9 810.5,214.4 C815.1,214.9 823.8,215.7 826.5,216.0" fill="none" stroke="#22ee22" stroke-width="2.60" stroke-linejoin="round" stroke-linecap="round"/>
<path d="M80.0,209.1 C82.4,208.8 89.3,208.4 94.3,207.6 C99.2,206.8 104.6,205.5 109.7,204.5 C114.8,203.5 119.9,202.4 125.0,201.4 C130.1,200.4 135.2,199.3 140.3,198.4 C145.4,197.5 150.6,196.9 155.7,196.1 C160.8,195.3 165.9,194.5 171.0,193.8 C176.1,193.1 181.5,192.4 186.3,191.9 C191.1,191.4 193.9,191.3 200.0,190.6 C206.1,189.9 216.8,188.8 222.6,187.8 C228.4,186.8 231.1,185.8 235.0,184.5 C238.9,183.2 242.4,181.9 246.2,180.1 C250.0,178.3 254.1,176.0 258.0,173.6 C261.9,171.2 265.9,168.7 269.8,165.4 C273.7,162.1 277.7,158.0 281.5,153.6 C285.3,149.2 289.1,143.7 292.8,139.2 C296.5,134.7 299.8,130.8 303.6,126.4 C307.4,122.0 311.5,117.1 315.4,112.8 C319.3,108.5 323.3,104.2 327.2,100.4 C331.1,96.6 335.1,93.0 339.0,89.8 C342.9,86.6 346.9,83.9 350.8,81.0 C354.7,78.1 358.6,75.0 362.5,72.2 C366.4,69.5 371.2,66.2 374.3,64.5 C377.4,62.8 378.8,62.9 380.9,62.0 C383.0,61.1 384.8,60.1 386.8,59.3 C388.8,58.5 390.7,58.0 392.7,57.3 C394.7,56.6 396.6,56.1 398.6,55.3 C400.6,54.5 402.5,53.4 404.5,52.3 C406.5,51.2 408.4,50.0 410.4,48.8 C412.4,47.6 414.3,46.2 416.3,45.2 C418.3,44.2 420.2,43.4 422.2,43.0 C424.2,42.6 426.3,42.6 428.1,42.8 C429.9,43.0 431.2,43.4 432.8,44.2 C434.4,45.0 435.9,46.2 437.5,47.8 C439.1,49.3 440.6,51.3 442.2,53.5 C443.8,55.7 445.3,58.3 446.9,61.0 C448.5,63.7 449.9,66.2 451.7,69.5 C453.5,72.8 455.6,77.2 457.5,81.0 C459.4,84.8 461.1,88.1 463.0,92.0 C464.9,95.9 467.0,100.6 469.0,104.3 C471.0,108.0 473.4,111.3 475.0,114.0 C476.6,116.7 477.0,118.0 478.6,120.5 C480.2,123.0 482.5,126.3 484.5,128.8 C486.5,131.4 488.4,133.7 490.4,135.8 C492.4,137.9 494.3,139.8 496.3,141.6 C498.3,143.4 500.2,145.1 502.2,146.8 C504.2,148.5 506.1,150.2 508.1,151.6 C510.1,153.0 512.0,154.1 514.0,155.0 C516.0,155.9 517.9,156.5 519.9,156.8 C521.9,157.1 523.8,157.1 525.8,157.0 C527.8,156.9 529.8,156.7 531.7,156.0 C533.7,155.3 535.5,154.2 537.5,153.0 C539.5,151.8 541.1,150.3 543.4,148.5 C545.7,146.7 549.0,143.4 551.4,142.0 C553.8,140.6 555.8,140.5 557.9,140.0 C560.0,139.5 562.2,139.2 564.3,138.8 C566.4,138.4 568.6,138.5 570.7,137.5 C572.8,136.5 575.0,135.2 577.1,133.0 C579.2,130.8 581.5,127.9 583.6,124.0 C585.8,120.1 587.9,114.7 590.0,109.8 C592.1,104.9 594.5,98.9 596.4,94.4 C598.3,89.9 599.9,85.5 601.6,82.9 C603.3,80.3 605.0,79.1 606.7,79.0 C608.4,78.9 610.1,79.9 611.8,82.2 C613.5,84.5 615.3,88.7 617.0,93.1 C618.7,97.5 620.2,102.8 622.1,108.6 C624.0,114.4 626.4,121.1 628.5,127.8 C630.6,134.5 633.1,143.3 635.0,149.0 C636.9,154.7 638.1,158.5 639.7,161.8 C641.3,165.1 642.6,166.8 644.4,168.9 C646.2,171.0 648.3,172.5 650.3,174.2 C652.3,175.9 654.2,177.3 656.2,178.9 C658.2,180.5 659.7,181.6 662.1,183.6 C664.5,185.6 667.0,188.2 670.4,190.7 C673.8,193.1 678.3,196.3 682.2,198.3 C686.1,200.3 690.1,201.4 694.0,202.5 C697.9,203.6 701.9,204.2 705.8,204.8 C709.7,205.4 713.8,205.6 717.5,206.0 C721.2,206.4 724.3,207.3 728.0,207.5 C731.7,207.7 735.9,207.2 739.8,206.9 C743.7,206.6 747.7,206.1 751.6,205.9 C755.5,205.7 759.5,205.7 763.4,205.8 C767.3,206.0 771.3,206.4 775.2,206.8 C779.1,207.2 783.1,207.8 787.0,208.5 C790.9,209.2 794.9,210.1 798.8,210.8 C802.7,211.5 805.9,212.2 810.5,212.8 C815.1,213.4 823.8,214.0 826.5,214.2" fill="none" stroke="#1010f0" stroke-width="2.60" stroke-linejoin="round" stroke-linecap="round"/>
<path d="M80.0,210.2 C82.4,210.2 89.3,210.3 94.3,210.2 C99.2,210.1 104.6,209.9 109.7,209.6 C114.8,209.3 119.9,208.6 125.0,208.3 C130.1,208.0 135.2,207.8 140.3,207.6 C145.4,207.3 150.6,207.1 155.7,206.8 C160.8,206.5 165.9,206.1 171.0,205.6 C176.1,205.1 181.5,204.6 186.3,204.0 C191.1,203.4 193.9,203.0 200.0,202.3 C206.1,201.6 215.9,201.2 222.6,199.6 C229.3,198.0 235.7,194.7 240.3,192.5 C244.9,190.3 247.1,188.7 250.0,186.5 C252.9,184.3 254.7,182.4 258.0,179.5 C261.3,176.6 265.9,172.8 269.8,168.9 C273.7,165.0 277.8,160.8 281.5,156.0 C285.2,151.2 288.1,145.1 291.8,140.0 C295.5,134.9 299.7,130.2 303.6,125.5 C307.5,120.8 311.5,116.2 315.4,111.9 C319.3,107.6 323.3,103.4 327.2,99.6 C331.1,95.8 335.1,92.2 339.0,88.9 C342.9,85.7 346.9,83.0 350.8,80.1 C354.7,77.2 358.6,74.1 362.5,71.3 C366.4,68.5 371.3,65.2 374.3,63.5 C377.3,61.8 378.4,61.8 380.5,61.0 C382.6,60.2 384.8,59.3 386.8,58.5 C388.8,57.7 390.7,57.1 392.7,56.4 C394.7,55.7 396.6,55.2 398.6,54.4 C400.6,53.6 402.5,52.5 404.5,51.4 C406.5,50.3 408.4,49.1 410.4,48.0 C412.4,46.9 414.3,45.5 416.3,44.5 C418.3,43.5 420.2,42.7 422.2,42.3 C424.2,41.9 426.3,42.0 428.1,42.2 C429.9,42.4 431.2,42.7 432.8,43.4 C434.4,44.1 435.9,45.1 437.5,46.5 C439.1,47.9 440.6,49.8 442.2,51.8 C443.8,53.8 445.3,56.3 446.9,58.8 C448.5,61.3 449.9,63.6 451.7,66.8 C453.5,70.0 455.6,74.3 457.5,78.0 C459.4,81.7 461.1,85.1 463.0,89.0 C464.9,92.9 467.0,97.6 469.0,101.3 C471.0,105.0 473.4,108.3 475.0,111.0 C476.6,113.7 477.0,115.0 478.6,117.5 C480.2,120.0 482.5,123.4 484.5,126.0 C486.5,128.6 488.4,130.8 490.4,133.0 C492.4,135.2 494.3,137.1 496.3,139.0 C498.3,140.9 500.2,142.7 502.2,144.4 C504.2,146.1 506.1,147.8 508.1,149.2 C510.1,150.6 512.0,151.9 514.0,152.8 C516.0,153.7 517.9,154.3 519.9,154.7 C521.9,155.1 523.8,155.1 525.8,155.0 C527.8,154.9 529.8,154.7 531.7,154.2 C533.7,153.7 535.5,152.9 537.5,152.0 C539.5,151.1 541.1,149.9 543.4,148.5 C545.7,147.1 549.0,144.4 551.4,143.3 C553.8,142.2 555.8,141.9 557.9,142.0 C560.0,142.1 562.2,143.3 564.3,143.9 C566.4,144.5 568.6,145.1 570.7,145.8 C572.8,146.6 575.0,147.7 577.1,148.4 C579.2,149.2 581.5,149.6 583.6,150.3 C585.8,151.1 587.9,151.7 590.0,152.9 C592.1,154.1 594.3,155.8 596.4,157.4 C598.5,159.0 600.6,160.7 602.8,162.5 C604.9,164.3 607.1,166.6 609.3,168.3 C611.4,170.0 613.6,171.5 615.7,172.8 C617.8,174.1 620.0,175.0 622.1,176.0 C624.2,177.0 626.4,177.8 628.5,178.6 C630.6,179.4 632.9,180.0 635.0,180.6 C637.1,181.2 638.9,181.7 640.9,182.1 C642.9,182.5 644.8,182.7 646.8,182.8 C648.8,183.0 650.7,182.8 652.7,183.0 C654.7,183.2 656.6,183.6 658.6,184.2 C660.6,184.8 662.5,185.6 664.5,186.6 C666.5,187.6 668.4,188.9 670.4,190.1 C672.4,191.3 674.3,192.5 676.3,193.6 C678.3,194.7 680.2,195.7 682.2,196.6 C684.2,197.5 686.1,198.3 688.1,198.9 C690.1,199.5 691.0,199.6 694.0,200.1 C697.0,200.6 701.9,201.4 705.8,201.9 C709.7,202.4 713.8,202.9 717.5,203.1 C721.2,203.3 724.3,203.2 728.0,203.0 C731.7,202.8 735.9,202.2 739.8,201.8 C743.7,201.4 747.7,200.6 751.6,200.3 C755.5,200.0 759.5,199.7 763.4,199.8 C767.3,199.9 771.3,200.5 775.2,201.0 C779.1,201.5 783.1,202.3 787.0,203.0 C790.9,203.7 794.9,204.6 798.8,205.4 C802.7,206.2 805.9,207.1 810.5,207.7 C815.1,208.3 823.8,208.7 826.5,208.9" fill="none" stroke="#0a0a0a" stroke-width="2.60" stroke-linejoin="round" stroke-linecap="round"/>
<path d="M80.0,209.6 C82.4,209.5 89.3,209.5 94.3,209.1 C99.2,208.7 104.6,207.9 109.7,207.1 C114.8,206.3 119.9,205.3 125.0,204.5 C130.1,203.7 135.2,202.9 140.3,202.2 C145.4,201.5 150.6,201.0 155.7,200.4 C160.8,199.8 165.9,199.0 171.0,198.4 C176.1,197.8 181.5,197.2 186.3,196.8 C191.1,196.4 193.9,196.7 200.0,196.0 C206.1,195.3 216.8,193.7 222.6,192.5 C228.4,191.3 231.1,190.3 235.0,188.8 C238.9,187.3 242.4,185.7 246.2,183.7 C250.0,181.7 254.1,179.3 258.0,176.6 C261.9,173.9 265.9,171.0 269.8,167.7 C273.7,164.3 277.4,161.1 281.5,156.5 C285.6,151.9 290.5,144.9 294.2,140.0 C297.9,135.1 300.1,131.7 303.6,127.3 C307.1,122.9 311.5,118.0 315.4,113.7 C319.3,109.4 323.3,105.1 327.2,101.3 C331.1,97.5 335.1,93.9 339.0,90.7 C342.9,87.5 346.9,84.9 350.8,81.9 C354.7,79.0 358.6,75.8 362.5,73.0 C366.4,70.2 371.2,67.2 374.3,65.4 C377.4,63.6 378.8,63.4 380.9,62.4 C383.0,61.4 384.8,60.3 386.8,59.5 C388.8,58.7 390.7,58.1 392.7,57.4 C394.7,56.7 396.6,56.2 398.6,55.4 C400.6,54.6 402.5,53.5 404.5,52.4 C406.5,51.3 408.4,50.1 410.4,48.9 C412.4,47.7 414.3,46.3 416.3,45.3 C418.3,44.3 420.2,43.4 422.2,43.0 C424.2,42.6 426.3,42.6 428.1,42.7 C429.9,42.9 431.2,43.2 432.8,43.9 C434.4,44.6 435.9,45.7 437.5,47.1 C439.1,48.5 440.6,50.3 442.2,52.4 C443.8,54.5 445.3,57.0 446.9,59.5 C448.5,62.0 449.9,64.5 451.7,67.7 C453.5,71.0 455.6,75.3 457.5,79.0 C459.4,82.7 461.1,86.1 463.0,90.0 C464.9,93.9 467.0,98.6 469.0,102.3 C471.0,106.0 473.4,109.3 475.0,112.0 C476.6,114.7 477.0,116.0 478.6,118.5 C480.2,121.0 482.5,124.6 484.5,127.2 C486.5,129.8 488.4,132.0 490.4,134.2 C492.4,136.3 494.3,138.2 496.3,140.1 C498.3,142.0 500.2,143.7 502.2,145.4 C504.2,147.1 506.1,148.8 508.1,150.2 C510.1,151.6 512.0,152.8 514.0,153.7 C516.0,154.6 517.9,155.2 519.9,155.5 C521.9,155.8 523.8,155.9 525.8,155.8 C527.8,155.7 529.8,155.5 531.7,154.9 C533.7,154.3 535.5,153.5 537.5,152.5 C539.5,151.5 541.4,150.2 543.4,149.0 C545.4,147.8 547.4,146.5 549.3,145.4 C551.2,144.3 553.2,143.1 555.0,142.5 C556.8,141.9 558.5,141.8 560.0,141.7 C561.5,141.6 562.5,141.7 564.3,142.0 C566.1,142.3 568.6,143.1 570.7,143.3 C572.8,143.6 575.0,143.8 577.1,143.5 C579.2,143.2 581.5,142.1 583.6,141.3 C585.8,140.5 587.9,139.6 590.0,138.8 C592.1,138.1 594.3,137.2 596.4,136.8 C598.5,136.4 601.1,136.2 602.8,136.2 C604.5,136.2 605.2,135.8 606.7,136.8 C608.2,137.8 610.1,139.8 611.8,142.0 C613.5,144.2 615.3,146.9 617.0,149.7 C618.7,152.5 620.2,155.9 622.1,158.7 C624.0,161.5 626.4,164.2 628.5,166.5 C630.6,168.8 632.9,170.7 635.0,172.3 C637.1,173.9 639.0,175.2 641.0,176.3 C643.0,177.4 644.8,178.1 646.8,178.9 C648.8,179.7 650.7,180.5 652.7,181.3 C654.7,182.1 656.6,182.7 658.6,183.6 C660.6,184.5 662.5,185.4 664.5,186.6 C666.5,187.8 668.4,189.3 670.4,190.7 C672.4,192.1 674.3,193.5 676.3,194.8 C678.3,196.1 680.2,197.3 682.2,198.3 C684.2,199.3 686.1,200.0 688.1,200.7 C690.1,201.4 692.0,201.9 694.0,202.5 C696.0,203.1 697.9,203.7 699.9,204.2 C701.9,204.7 702.9,204.9 705.8,205.4 C708.7,205.9 713.8,206.8 717.5,207.2 C721.2,207.6 724.3,207.8 728.0,207.7 C731.7,207.6 735.9,207.2 739.8,206.9 C743.7,206.6 747.7,205.9 751.6,205.7 C755.5,205.4 759.5,205.3 763.4,205.4 C767.3,205.5 771.3,205.8 775.2,206.2 C779.1,206.6 783.1,207.1 787.0,207.7 C790.9,208.2 794.9,209.0 798.8,209.5 C802.7,210.0 805.9,210.6 810.5,210.9 C815.1,211.2 823.8,211.5 826.5,211.6" fill="none" stroke="#ee1010" stroke-width="2.60" stroke-linejoin="round" stroke-linecap="round"/>
<path d="M71.0,790.2 C71.8,790.2 74.0,790.2 76.0,790.2 C78.0,790.2 81.0,790.3 82.7,790.0 C84.4,789.7 85.0,788.8 86.0,788.2 C87.0,787.6 87.6,787.2 88.5,786.3 C89.4,785.4 90.4,784.3 91.5,783.0 C92.6,781.7 93.8,780.3 94.9,778.6 C96.0,776.9 96.9,775.2 98.1,772.8 C99.3,770.4 100.7,766.3 102.0,764.4 C103.3,762.5 104.8,761.6 105.9,761.2 C107.0,760.9 107.7,761.8 108.5,762.3 C109.3,762.8 109.8,763.9 111.0,764.4 C112.2,764.9 114.2,764.3 116.0,765.4 C117.8,766.5 119.6,768.3 121.7,770.8 C123.8,773.3 126.8,780.2 128.8,780.2 C130.8,780.2 132.1,774.7 133.5,770.8 C134.9,766.9 135.9,759.7 137.0,756.6 C138.1,753.5 138.9,752.2 139.9,752.4 C140.9,752.6 141.8,754.3 142.9,757.8 C144.0,761.2 145.1,769.2 146.5,773.1 C147.9,777.0 149.4,780.7 151.2,781.4 C153.0,782.1 155.3,777.4 157.1,777.4 C158.9,777.4 160.2,779.9 161.8,781.4 C163.4,782.9 163.9,785.2 166.5,786.1 C169.1,787.0 173.4,786.3 177.1,786.6 C180.8,786.9 185.0,787.6 188.9,787.7 C192.8,787.8 196.8,787.6 200.7,787.3 C204.6,787.0 208.6,786.6 212.5,786.1 C216.4,785.6 220.4,784.6 224.3,784.4 C228.2,784.2 232.2,784.3 236.1,784.9 C240.0,785.5 244.2,786.7 247.9,787.7 C251.6,788.7 255.7,790.5 258.5,790.8 C261.4,791.0 262.7,789.7 265.0,789.2 C267.3,788.7 268.2,787.7 272.1,787.7 C276.0,787.7 283.1,788.8 288.6,789.2 C294.1,789.6 299.6,790.2 305.1,790.1 C310.6,790.0 316.5,789.4 321.6,788.4 C326.7,787.4 331.1,785.2 335.8,784.4 C340.5,783.6 345.2,783.7 349.9,783.5 C354.6,783.3 359.4,782.9 364.1,783.0 C368.8,783.1 374.3,783.9 378.2,784.4 C382.1,784.9 384.5,786.2 387.6,786.3 C390.8,786.4 394.0,785.1 397.1,784.9 C400.2,784.7 403.8,784.3 406.5,784.9 C409.2,785.5 411.2,787.4 413.6,788.4 C416.0,789.4 418.4,790.4 420.7,790.8 C423.0,791.2 425.5,791.6 427.7,790.8 C429.9,790.0 431.6,787.5 433.6,786.1 C435.6,784.7 437.3,782.7 439.5,782.5 C441.7,782.3 444.2,784.0 446.6,784.9 C449.0,785.8 451.1,787.5 453.7,787.7 C456.3,787.9 459.5,788.1 462.1,786.1 C464.7,784.1 467.2,779.2 469.2,775.5 C471.2,771.8 472.3,766.5 473.9,763.7 C475.5,761.0 477.0,759.0 478.6,759.0 C480.2,759.0 481.5,760.6 483.3,763.7 C485.1,766.8 487.2,774.5 489.2,777.8 C491.2,781.1 492.9,783.1 495.1,783.7 C497.3,784.3 499.9,782.3 502.2,781.4 C504.5,780.5 506.9,778.9 509.2,778.3 C511.5,777.7 513.9,778.2 516.3,777.8 C518.7,777.4 521.0,776.4 523.4,775.9 C525.8,775.4 528.1,775.9 530.5,775.0 C532.9,774.1 535.1,772.1 537.5,770.8 C539.9,769.5 541.8,769.0 544.6,767.2 C547.4,765.4 551.0,763.2 554.1,760.1 C557.2,757.0 560.4,751.8 563.5,748.3 C566.6,744.8 570.4,739.9 572.9,738.9 C575.4,737.9 576.6,739.8 578.8,742.5 C581.0,745.2 583.7,751.5 585.9,755.4 C588.1,759.3 590.0,763.6 591.8,766.0 C593.6,768.4 594.9,770.0 596.5,769.6 C598.1,769.2 599.4,767.1 601.2,763.7 C603.0,760.4 605.5,752.5 607.1,749.5 C608.7,746.5 609.3,746.0 610.7,746.0 C612.1,746.0 613.4,746.5 615.4,749.5 C617.4,752.5 619.8,759.8 622.5,763.7 C625.2,767.6 628.4,770.6 631.9,773.1 C635.4,775.6 640.5,777.4 643.7,779.0 C646.9,780.6 647.7,781.7 651.2,782.9 C654.7,784.1 660.9,786.5 664.6,786.3 C668.3,786.1 671.1,783.0 673.6,781.8 C676.1,780.6 677.6,778.9 679.9,779.1 C682.1,779.3 684.4,781.1 687.1,782.9 C689.8,784.6 691.9,788.3 696.0,789.6 C700.1,790.9 706.1,791.1 711.7,790.7 C717.3,790.3 723.6,788.3 729.6,787.4 C735.6,786.5 742.3,785.1 747.5,785.1 C752.7,785.1 755.8,786.5 761.0,787.4 C766.2,788.3 772.9,790.2 778.9,790.7 C784.9,791.2 791.6,791.1 796.8,790.7 C802.0,790.3 806.5,789.6 810.3,788.5 C814.0,787.4 816.5,785.5 819.3,784.0 C822.1,782.5 825.7,780.2 827.0,779.5" fill="none" stroke="#14148a" stroke-width="2.40" stroke-linejoin="round" stroke-linecap="round"/>
<path d="M71.0,874.3 C71.8,874.2 74.3,874.2 76.0,874.0 C77.7,873.8 79.5,873.7 81.2,873.1 C83.0,872.5 85.0,871.8 86.5,870.6 C88.0,869.4 88.5,868.9 90.2,866.0 C91.9,863.1 94.8,857.0 96.9,853.3 C99.0,849.6 101.2,845.8 102.8,843.9 C104.4,842.0 105.0,841.6 106.4,842.2 C107.8,842.8 109.1,845.0 111.1,847.4 C113.1,849.8 115.7,853.8 118.2,856.8 C120.8,859.8 124.1,866.2 126.4,865.6 C128.8,865.0 130.5,857.7 132.3,853.3 C134.1,848.9 135.7,842.1 137.0,839.2 C138.3,836.3 138.9,836.1 139.9,836.1 C140.9,836.1 141.8,836.3 142.9,839.2 C144.0,842.1 145.1,849.6 146.5,853.3 C147.9,857.0 149.6,860.4 151.2,861.6 C152.8,862.8 154.3,859.8 155.9,860.4 C157.5,861.0 158.6,863.1 160.6,865.1 C162.6,867.1 164.9,870.7 167.7,872.2 C170.4,873.7 173.6,874.3 177.1,874.1 C180.6,873.9 185.0,871.9 188.9,871.0 C192.8,870.1 197.3,869.8 200.7,868.6 C204.0,867.4 206.2,865.5 209.0,863.9 C211.8,862.2 214.6,859.2 217.2,858.7 C219.8,858.2 221.6,859.3 224.3,860.8 C227.1,862.3 230.2,866.5 233.7,867.9 C237.2,869.3 241.6,868.6 245.5,869.3 C249.4,870.0 254.1,871.3 257.3,872.2 C260.6,873.1 255.8,874.1 265.0,874.5 C274.1,874.9 302.8,874.9 312.2,874.5 C321.6,874.1 318.1,873.2 321.6,872.2 C325.1,871.2 329.1,869.4 333.4,868.6 C337.7,867.8 342.8,867.9 347.5,867.5 C352.2,867.1 357.8,866.3 361.7,866.3 C365.6,866.3 367.2,867.7 371.1,867.5 C375.0,867.3 381.0,864.9 385.3,865.1 C389.6,865.3 393.6,868.1 397.1,868.6 C400.6,869.1 403.4,867.2 406.5,867.9 C409.6,868.6 412.4,871.4 415.9,872.6 C419.4,873.8 423.8,875.4 427.7,875.0 C431.6,874.6 435.9,871.6 439.5,870.3 C443.1,869.0 445.9,867.2 449.0,867.0 C452.1,866.8 455.8,868.6 458.4,869.3 C461.0,870.0 462.2,872.1 464.4,871.0 C466.6,869.9 469.3,865.5 471.5,862.7 C473.7,860.0 475.6,856.1 477.4,854.5 C479.2,852.9 480.3,852.7 482.1,853.3 C483.9,853.9 485.4,855.8 488.0,858.0 C490.6,860.2 494.8,865.5 497.5,866.3 C500.2,867.1 502.4,863.5 504.5,862.7 C506.6,861.9 508.2,861.4 510.4,861.6 C512.6,861.8 514.9,863.2 517.5,863.9 C520.1,864.6 522.8,865.4 525.8,865.6 C528.8,865.8 531.7,865.1 535.2,865.1 C538.7,865.1 543.9,866.2 547.0,865.8 C550.1,865.4 551.6,863.8 554.1,862.7 C556.6,861.6 559.5,859.4 562.3,859.2 C565.0,859.0 567.6,860.4 570.6,861.6 C573.6,862.8 576.5,864.8 580.0,866.3 C583.5,867.8 587.1,869.3 591.8,870.3 C596.5,871.3 602.8,871.6 608.3,872.2 C613.8,872.8 618.9,874.0 624.8,874.1 C630.7,874.2 636.7,872.7 643.7,872.6 C650.7,872.5 661.9,874.6 666.9,873.6 C671.9,872.6 671.5,868.5 673.6,866.9 C675.7,865.3 677.3,864.0 679.2,864.0 C681.1,864.0 682.4,865.1 684.8,866.9 C687.2,868.7 689.3,873.9 693.8,874.8 C698.3,875.7 705.7,873.4 711.7,872.5 C717.7,871.6 723.6,870.1 729.6,869.2 C735.6,868.3 741.5,866.9 747.5,866.9 C753.5,866.9 759.5,868.1 765.5,869.2 C771.5,870.3 777.4,872.7 783.4,873.6 C789.4,874.5 796.1,875.2 801.3,874.8 C806.5,874.4 810.5,873.3 814.8,871.4 C819.1,869.5 825.0,864.9 827.0,863.6" fill="none" stroke="#128a12" stroke-width="2.40" stroke-linejoin="round" stroke-linecap="round"/>
<path d="M71.0,706.0 C71.8,705.8 74.4,705.8 76.0,704.5 C77.6,703.2 78.5,701.8 80.4,698.2 C82.3,694.6 85.3,692.2 87.5,683.0 C89.7,673.8 91.8,657.5 93.4,643.0 C95.0,628.5 95.7,605.8 96.9,596.0 C98.1,586.2 99.2,587.2 100.4,584.1 C101.6,581.0 102.7,580.2 103.9,577.1 C105.1,574.0 106.2,568.4 107.5,565.3 C108.8,562.1 110.3,558.2 111.5,558.2 C112.7,558.2 113.4,559.8 114.5,565.3 C115.6,570.8 116.9,581.8 118.1,591.2 C119.3,600.6 120.4,612.0 121.6,621.8 C122.8,631.6 123.7,644.3 125.1,650.0 C126.5,655.7 127.8,653.5 129.8,655.9 C131.8,658.2 134.6,660.8 136.9,664.1 C139.2,667.4 141.6,673.0 143.9,675.9 C146.2,678.8 149.2,680.6 151.0,681.8 C152.8,683.0 153.3,682.5 154.7,683.1 C156.1,683.7 158.0,685.2 159.4,685.4 C160.8,685.5 161.6,685.6 163.0,684.0 C164.4,682.4 165.9,679.3 167.7,676.0 C169.5,672.7 171.8,668.7 173.6,664.0 C175.4,659.3 177.0,653.0 178.3,648.0 C179.6,643.0 180.4,637.9 181.2,634.0 C182.0,630.1 182.4,626.9 183.0,624.8 C183.6,622.7 184.0,621.5 184.8,621.5 C185.6,621.5 186.5,623.5 187.7,624.5 C188.9,625.5 190.4,627.4 191.8,627.5 C193.2,627.6 194.6,625.8 196.0,624.9 C197.4,624.0 198.9,622.5 200.1,622.4 C201.3,622.3 201.7,622.8 203.0,624.5 C204.3,626.2 205.9,629.8 207.7,632.5 C209.5,635.2 211.8,638.8 213.6,640.7 C215.4,642.7 216.3,643.3 218.3,644.2 C220.3,645.1 223.5,645.4 225.4,646.0 C227.3,646.6 227.7,647.0 230.0,647.7 C232.3,648.5 236.2,650.0 239.0,650.5 C241.8,651.0 244.1,649.8 246.7,651.0 C249.3,652.2 251.8,655.2 254.4,658.0 C257.0,660.8 259.9,665.8 262.1,668.0 C264.4,670.2 266.0,671.8 267.9,671.5 C269.8,671.2 271.7,665.3 273.6,666.0 C275.5,666.7 277.5,672.0 279.4,675.5 C281.3,679.0 283.3,684.7 285.2,686.8 C287.1,688.9 289.4,688.0 291.0,688.0 C292.6,688.0 293.2,685.6 294.8,687.0 C296.4,688.4 298.8,694.3 300.6,696.1 C302.4,697.9 304.1,696.7 305.8,697.8 C307.5,698.9 309.0,700.8 310.6,702.6 C312.2,704.4 313.9,708.4 315.4,708.4 C316.8,708.4 318.0,705.2 319.3,702.6 C320.6,700.0 321.7,695.9 323.1,693.0 C324.5,690.1 326.0,685.5 327.9,685.2 C329.8,684.9 332.0,691.0 334.7,691.0 C337.4,691.0 340.4,686.0 344.3,685.2 C348.2,684.4 354.0,685.4 357.8,686.2 C361.6,687.0 364.2,689.2 367.4,690.0 C370.6,690.8 374.2,691.5 377.1,691.0 C380.0,690.5 382.6,689.0 384.8,687.2 C387.1,685.4 388.7,680.7 390.6,680.4 C392.5,680.1 394.7,683.6 396.3,685.2 C397.9,686.8 398.8,690.2 400.2,690.0 C401.6,689.8 403.6,690.3 405.0,684.0 C406.4,677.7 407.9,659.2 408.9,652.0 C409.9,644.8 410.2,641.0 410.8,641.0 C411.4,641.0 411.9,645.8 412.7,652.0 C413.5,658.2 414.5,672.3 415.6,678.0 C416.8,683.7 417.3,685.0 419.6,686.2 C421.9,687.4 426.4,686.2 429.3,685.2 C432.2,684.2 434.9,682.0 437.0,680.4 C439.1,678.8 440.2,676.1 441.8,675.6 C443.4,675.1 445.0,678.3 446.6,677.5 C448.2,676.7 449.8,672.7 451.4,670.8 C453.0,668.9 454.6,666.3 456.2,666.0 C457.8,665.7 459.5,667.2 461.1,669.0 C462.7,670.8 464.1,674.2 465.9,677.0 C467.7,679.8 469.9,683.9 471.7,685.5 C473.5,687.1 474.9,686.8 476.5,686.5 C478.1,686.2 479.5,684.1 481.3,684.0 C483.1,683.9 485.2,685.3 487.1,686.0 C489.0,686.7 490.8,687.2 492.9,688.0 C495.0,688.8 497.7,690.6 499.6,690.5 C501.5,690.4 502.9,689.0 504.4,687.2 C505.8,685.4 507.2,681.8 508.3,679.5 C509.4,677.2 510.2,674.0 511.2,673.7 C512.1,673.4 513.0,675.2 514.0,677.5 C515.0,679.8 515.8,685.3 516.9,687.2 C518.0,689.1 519.6,689.6 520.8,689.1 C522.0,688.6 522.8,685.4 523.9,684.3 C525.0,683.2 526.4,681.9 527.7,682.4 C529.0,682.9 530.4,684.6 531.6,687.0 C532.8,689.4 533.1,694.2 535.0,697.0 C536.9,699.8 540.5,701.8 543.1,703.5 C545.7,705.2 548.2,706.6 550.8,707.4 C553.4,708.2 555.9,708.7 558.5,708.4 C561.1,708.1 564.0,707.0 566.2,705.5 C568.5,704.0 570.1,701.0 572.0,699.7 C573.9,698.4 575.9,698.1 577.8,697.8 C579.7,697.5 581.7,697.5 583.6,697.8 C585.5,698.1 587.1,699.1 589.4,699.7 C591.6,700.3 594.5,701.0 597.1,701.6 C599.7,702.2 602.2,703.0 604.8,703.5 C607.4,704.0 609.3,704.5 612.5,704.5 C615.7,704.5 620.8,703.9 624.0,703.5 C627.2,703.1 629.3,702.5 632.0,702.0 C634.7,701.5 637.9,700.6 640.0,700.5 C642.1,700.4 643.7,701.5 644.9,701.3 C646.1,701.1 646.5,700.4 647.2,699.5 C647.9,698.6 648.4,697.5 649.2,696.0 C650.0,694.5 651.1,690.9 651.9,690.5 C652.7,690.1 653.0,691.4 653.9,693.5 C654.8,695.6 656.3,700.8 657.2,703.0 C658.1,705.2 658.8,705.8 659.5,706.5 C660.2,707.2 660.7,707.4 661.4,707.0 C662.1,706.6 662.7,705.1 663.5,704.0 C664.3,702.9 665.5,700.9 666.3,700.5 C667.0,700.1 667.5,701.0 668.0,701.5 C668.5,702.0 668.9,702.5 669.6,703.5 C670.3,704.5 670.5,706.9 672.1,707.5 C673.8,708.1 676.9,707.3 679.5,707.2 C682.1,707.1 685.3,707.3 687.8,707.1 C690.3,706.9 692.5,706.8 694.4,705.8 C696.3,704.8 697.3,702.9 699.4,701.3 C701.5,699.7 704.5,697.3 707.1,696.1 C709.7,694.9 712.2,694.8 714.8,694.1 C717.4,693.5 719.9,693.5 722.5,692.2 C725.1,690.9 728.0,688.3 730.2,686.4 C732.4,684.5 734.2,682.0 735.9,680.7 C737.5,679.4 738.7,678.8 740.1,678.6 C741.5,678.4 743.0,678.2 744.4,679.6 C745.8,681.0 746.9,684.3 748.7,687.1 C750.5,689.9 752.6,694.0 755.1,696.5 C757.6,699.0 760.8,701.0 763.7,702.3 C766.6,703.5 768.0,703.8 772.3,704.0 C776.6,704.2 785.1,703.9 789.4,703.5 C793.7,703.1 795.1,701.8 798.0,701.5 C800.9,701.2 804.1,701.2 806.6,701.5 C809.1,701.8 810.9,702.2 813.0,703.0 C815.1,703.8 817.1,705.2 819.4,706.0 C821.7,706.8 825.7,707.2 827.0,707.5" fill="none" stroke="#0a0a0a" stroke-width="2.40" stroke-linejoin="round" stroke-linecap="round"/>
<path d="M71.0,706.0 C71.8,705.8 74.4,705.8 76.0,704.5 C77.6,703.2 78.5,701.8 80.4,698.2 C82.3,694.6 85.3,692.2 87.5,683.0 C89.7,673.8 91.6,658.3 93.4,643.0 C95.2,627.7 96.7,603.8 98.1,591.2 C99.5,578.6 100.2,574.3 101.6,567.6 C103.0,560.9 104.9,556.6 106.3,551.2 C107.7,545.8 108.9,538.1 109.8,535.0 C110.7,531.9 110.9,532.0 111.5,532.4 C112.1,532.8 112.5,531.9 113.4,537.5 C114.3,543.1 115.7,554.8 116.9,566.0 C118.1,577.2 119.2,592.8 120.4,605.0 C121.6,617.2 122.7,631.3 123.9,639.5 C125.1,647.7 125.9,650.8 127.5,654.0 C129.1,657.2 131.5,655.8 133.4,658.5 C135.3,661.2 137.0,666.2 139.2,670.0 C141.3,673.8 144.3,679.0 146.3,681.5 C148.3,684.0 149.6,684.2 151.0,685.0 C152.4,685.8 153.3,686.1 154.7,686.5 C156.1,686.9 158.0,687.7 159.4,687.5 C160.8,687.3 161.6,687.4 163.0,685.5 C164.4,683.6 165.9,679.6 167.7,676.0 C169.5,672.4 171.8,669.0 173.6,664.0 C175.4,659.0 177.0,651.7 178.3,646.0 C179.6,640.3 180.4,634.3 181.2,630.0 C182.0,625.7 182.4,622.2 183.0,620.0 C183.6,617.8 184.0,616.6 184.8,616.5 C185.6,616.4 186.5,618.2 187.7,619.5 C188.9,620.8 190.4,624.0 191.8,624.2 C193.2,624.5 194.6,621.9 196.0,621.0 C197.4,620.1 198.9,619.0 200.1,618.9 C201.3,618.8 201.7,619.0 203.0,620.5 C204.3,622.0 205.9,625.6 207.7,628.0 C209.5,630.4 211.4,633.1 213.6,635.0 C215.8,636.9 218.7,638.8 220.7,639.5 C222.7,640.2 223.8,639.1 225.4,639.2 C227.0,639.3 227.7,639.5 230.0,640.0 C232.3,640.5 236.2,641.6 239.4,642.5 C242.6,643.4 246.5,643.9 248.9,645.3 C251.3,646.7 252.0,648.8 253.6,650.8 C255.2,652.8 256.9,655.2 258.3,657.4 C259.7,659.6 260.6,662.0 262.1,664.2 C263.6,666.4 265.4,670.7 267.3,670.6 C269.2,670.5 271.6,663.4 273.6,663.8 C275.6,664.2 277.5,669.5 279.4,673.0 C281.3,676.5 283.3,682.4 285.2,684.5 C287.1,686.6 289.4,685.4 291.0,685.5 C292.6,685.6 293.2,683.5 294.8,685.0 C296.4,686.5 298.8,692.4 300.6,694.5 C302.4,696.6 304.1,696.4 305.8,697.8 C307.5,699.1 309.0,700.8 310.6,702.6 C312.2,704.4 313.9,708.4 315.4,708.4 C316.8,708.4 318.0,705.8 319.3,702.6 C320.6,699.4 321.7,693.8 323.1,689.1 C324.5,684.4 326.3,676.1 327.9,674.6 C329.5,673.1 331.2,679.1 332.8,680.0 C334.4,680.9 335.7,681.1 337.6,680.0 C339.5,678.9 342.1,675.0 344.3,673.5 C346.6,672.0 348.9,670.8 351.1,670.8 C353.4,670.8 355.4,672.2 357.8,673.5 C360.2,674.8 362.9,676.9 365.5,678.5 C368.1,680.1 370.6,682.7 373.2,683.0 C375.8,683.3 378.6,682.1 380.9,680.5 C383.1,678.9 385.2,675.4 386.7,673.5 C388.1,671.6 388.6,668.6 389.6,669.0 C390.6,669.4 391.4,673.0 392.5,676.0 C393.6,679.0 395.0,684.7 396.3,687.2 C397.6,689.7 398.8,691.6 400.2,691.0 C401.6,690.4 403.6,690.0 405.0,683.3 C406.4,676.6 407.9,657.8 408.9,650.6 C409.9,643.4 410.2,640.0 410.8,640.0 C411.4,640.0 411.9,644.4 412.7,650.6 C413.5,656.9 414.5,671.1 415.6,677.5 C416.8,683.9 418.0,687.3 419.6,689.1 C421.2,690.9 423.5,688.6 425.4,688.1 C427.3,687.6 429.3,687.3 431.2,686.2 C433.1,685.1 435.4,682.7 437.0,681.4 C438.6,680.1 439.4,678.7 440.8,678.5 C442.2,678.3 444.0,681.2 445.6,680.4 C447.2,679.6 448.7,675.8 450.5,673.7 C452.3,671.6 454.4,668.4 456.2,667.9 C458.0,667.4 459.5,669.0 461.1,670.8 C462.7,672.6 464.1,675.9 465.9,678.5 C467.7,681.1 469.9,684.8 471.7,686.2 C473.5,687.7 474.9,687.5 476.5,687.2 C478.1,686.9 479.5,684.5 481.3,684.3 C483.1,684.1 485.2,685.6 487.1,686.2 C489.0,686.8 490.8,687.3 492.9,688.1 C495.0,688.9 497.7,691.1 499.6,691.0 C501.5,690.9 502.9,689.1 504.4,687.2 C505.8,685.3 507.2,681.8 508.3,679.5 C509.4,677.2 510.2,674.0 511.2,673.7 C512.1,673.4 513.0,675.2 514.0,677.5 C515.0,679.8 515.8,685.3 516.9,687.2 C518.0,689.1 519.6,689.6 520.8,689.1 C522.0,688.6 522.8,685.6 523.9,684.3 C525.0,682.9 526.4,680.9 527.7,681.0 C529.0,681.1 530.2,682.9 531.6,685.2 C533.0,687.5 534.5,692.3 536.4,694.9 C538.3,697.5 540.7,698.9 543.1,700.7 C545.5,702.5 548.2,704.5 550.8,705.5 C553.4,706.5 555.9,707.5 558.5,706.4 C561.1,705.3 564.0,701.3 566.2,698.7 C568.5,696.1 570.5,692.9 572.0,691.0 C573.5,689.1 573.6,687.8 574.9,687.6 C576.2,687.4 577.9,689.1 579.7,690.0 C581.5,690.9 583.6,691.7 585.5,693.0 C587.4,694.3 589.4,696.2 591.3,697.8 C593.2,699.4 594.9,701.2 597.1,702.6 C599.4,704.0 602.2,705.4 604.8,706.4 C607.4,707.4 609.9,708.1 612.5,708.4 C615.1,708.7 617.6,708.7 620.2,708.4 C622.8,708.1 626.1,706.8 627.9,706.4 C629.7,706.0 629.9,706.5 631.0,706.0 C632.1,705.5 633.3,704.2 634.5,703.5 C635.7,702.8 637.0,701.7 638.3,701.5 C639.5,701.3 640.9,702.0 642.0,702.2 C643.1,702.4 644.0,702.9 644.9,702.6 C645.8,702.3 646.5,701.4 647.2,700.3 C647.9,699.2 648.4,697.9 649.2,696.0 C650.0,694.1 651.1,689.6 651.9,689.0 C652.7,688.4 653.0,690.2 653.9,692.5 C654.8,694.8 656.3,700.5 657.2,702.9 C658.1,705.3 658.8,706.2 659.5,707.0 C660.2,707.8 660.7,708.2 661.4,707.8 C662.1,707.4 662.7,705.7 663.5,704.5 C664.3,703.3 665.5,701.0 666.3,700.5 C667.0,700.0 667.5,701.0 668.0,701.5 C668.5,702.0 668.9,702.9 669.6,703.8 C670.3,704.7 670.5,706.6 672.1,706.8 C673.8,707.0 676.9,705.6 679.5,705.2 C682.1,704.8 685.3,705.0 687.8,704.6 C690.3,704.2 692.5,703.7 694.4,702.8 C696.3,701.9 697.3,700.5 699.4,699.0 C701.5,697.5 704.5,695.2 707.1,694.0 C709.7,692.8 712.2,692.7 714.8,692.0 C717.4,691.3 719.9,691.4 722.5,690.0 C725.1,688.6 728.0,685.4 730.2,683.5 C732.4,681.6 734.2,679.8 735.9,678.5 C737.5,677.2 738.7,676.2 740.1,676.0 C741.5,675.8 743.0,676.0 744.4,677.5 C745.8,679.0 746.9,682.2 748.7,685.0 C750.5,687.8 752.6,691.9 755.1,694.5 C757.6,697.1 760.8,699.3 763.7,700.5 C766.6,701.7 769.1,701.3 772.3,701.8 C775.5,702.3 780.1,702.9 783.0,703.3 C785.9,703.7 786.9,704.3 789.4,704.0 C791.9,703.7 795.1,702.3 798.0,701.5 C800.9,700.7 804.1,699.4 806.6,699.2 C809.1,699.0 810.9,699.7 813.0,700.2 C815.1,700.8 817.1,702.1 819.4,702.5 C821.7,702.9 825.7,702.5 827.0,702.5" fill="none" stroke="#22ee22" stroke-width="2.40" stroke-linejoin="round" stroke-linecap="round"/>
<path d="M71.0,704.1 C72.6,702.9 77.7,701.3 80.4,697.0 C83.2,692.7 85.5,687.6 87.5,678.2 C89.5,668.8 90.6,655.5 92.2,640.6 C93.8,625.7 95.7,602.1 96.9,588.8 C98.1,575.5 98.2,569.2 99.2,560.6 C100.2,552.0 101.6,544.2 102.8,537.1 C104.0,530.0 105.1,523.7 106.3,518.2 C107.5,512.7 108.9,506.8 109.8,504.1 C110.7,501.4 110.9,501.4 111.5,501.8 C112.1,502.2 112.7,502.2 113.4,506.5 C114.1,510.8 114.9,518.2 115.7,527.6 C116.5,537.0 117.1,549.6 118.1,562.9 C119.1,576.2 120.4,593.9 121.6,607.6 C122.8,621.3 124.1,637.4 125.1,645.3 C126.1,653.1 126.3,652.6 127.5,654.7 C128.7,656.9 130.6,655.9 132.2,658.2 C133.8,660.6 135.3,665.1 136.9,668.8 C138.5,672.5 140.0,677.5 141.6,680.6 C143.2,683.7 144.7,686.0 146.3,687.6 C147.9,689.2 149.4,689.5 151.0,690.0 C152.6,690.5 154.3,690.6 155.8,690.6 C157.3,690.6 158.8,690.6 160.0,690.2 C161.2,689.8 161.7,690.0 163.0,688.0 C164.3,686.0 165.9,681.7 167.7,678.0 C169.5,674.3 171.8,670.8 173.6,666.0 C175.4,661.2 177.0,654.7 178.3,649.5 C179.6,644.3 180.4,639.0 181.2,635.0 C182.0,631.0 182.4,627.6 183.0,625.5 C183.6,623.4 184.0,622.3 184.8,622.4 C185.6,622.5 186.5,624.6 187.7,626.0 C188.9,627.4 190.4,630.3 191.8,630.5 C193.2,630.7 194.6,628.4 196.0,627.0 C197.4,625.6 198.9,622.8 200.1,622.4 C201.3,622.0 201.7,623.2 203.0,624.8 C204.3,626.4 205.9,629.4 207.7,632.0 C209.5,634.6 211.4,638.4 213.6,640.7 C215.8,643.0 218.1,644.8 220.7,646.0 C223.3,647.2 226.9,647.1 229.3,647.9 C231.7,648.7 233.1,649.9 235.0,651.0 C236.9,652.1 239.0,654.3 240.9,654.6 C242.8,654.9 244.4,651.8 246.7,652.7 C248.9,653.6 251.8,657.1 254.4,660.0 C256.9,662.9 260.1,667.5 262.0,670.0 C263.9,672.5 264.6,674.6 265.9,674.9 C267.2,675.2 268.7,673.6 270.0,672.0 C271.3,670.4 272.4,665.8 273.6,665.5 C274.8,665.2 275.7,667.8 277.0,670.0 C278.3,672.2 279.9,675.9 281.3,678.7 C282.7,681.5 283.6,685.4 285.2,687.0 C286.8,688.6 289.4,688.3 291.0,688.5 C292.6,688.7 293.2,686.6 294.8,688.0 C296.4,689.4 298.8,695.2 300.6,697.0 C302.4,698.8 304.1,698.0 305.8,699.0 C307.5,700.0 309.0,701.4 310.6,703.0 C312.2,704.6 313.9,708.9 315.4,708.4 C316.8,707.9 318.0,704.2 319.3,700.0 C320.6,695.8 322.1,688.3 323.1,683.3 C324.1,678.3 324.7,673.2 325.5,670.0 C326.3,666.8 327.2,664.5 327.9,664.0 C328.6,663.5 329.1,665.4 329.8,667.0 C330.5,668.6 330.7,672.0 331.8,673.7 C332.9,675.5 334.5,678.1 336.6,677.5 C338.7,676.9 342.1,671.7 344.3,669.8 C346.6,667.9 348.2,666.0 350.1,666.0 C352.0,666.0 353.6,666.9 355.9,669.8 C358.1,672.7 360.9,679.6 363.6,683.3 C366.3,687.0 369.4,691.4 372.3,692.0 C375.2,692.6 378.7,691.2 380.9,687.2 C383.1,683.2 384.4,672.6 385.7,667.9 C387.0,663.2 387.6,659.2 388.6,659.2 C389.6,659.2 390.4,662.9 391.5,667.9 C392.6,672.9 394.1,684.3 395.4,689.1 C396.7,693.9 397.9,696.1 399.2,696.8 C400.5,697.4 401.7,699.8 403.1,693.0 C404.6,686.2 406.6,664.6 407.9,656.3 C409.2,647.9 409.8,642.9 410.8,642.9 C411.8,642.9 412.7,649.6 413.7,656.3 C414.7,663.0 415.3,676.5 416.6,683.3 C417.9,690.0 419.5,694.5 421.6,696.8 C423.7,699.1 427.1,697.8 429.3,697.2 C431.5,696.6 433.1,694.7 435.0,693.0 C436.9,691.3 439.0,688.0 440.8,687.2 C442.6,686.4 443.8,689.2 445.6,688.1 C447.4,687.0 449.5,683.1 451.4,680.4 C453.3,677.7 455.4,672.8 457.2,671.8 C459.0,670.8 460.3,672.5 462.0,674.5 C463.7,676.5 465.5,681.3 467.5,683.5 C469.5,685.7 471.8,687.1 474.0,687.5 C476.2,687.9 478.3,685.8 481.0,686.0 C483.7,686.2 486.9,687.9 490.0,689.0 C493.1,690.1 497.2,693.1 499.6,692.6 C502.0,692.1 503.1,688.4 504.5,686.0 C505.9,683.6 506.9,680.2 508.0,678.0 C509.1,675.8 510.1,672.4 511.2,672.7 C512.3,673.0 513.5,677.5 514.5,680.0 C515.5,682.5 515.9,686.3 517.0,688.0 C518.1,689.7 519.8,690.4 521.0,690.0 C522.2,689.6 522.9,687.1 524.0,685.5 C525.1,683.9 526.5,680.5 527.7,680.4 C528.9,680.3 529.7,682.9 531.0,685.0 C532.3,687.1 533.4,690.2 535.4,693.0 C537.4,695.8 540.5,699.9 543.1,701.6 C545.7,703.4 548.2,703.3 550.8,703.5 C553.4,703.7 556.1,704.0 558.5,702.6 C560.9,701.2 563.5,698.8 565.3,694.9 C567.1,691.0 568.0,684.0 569.1,679.5 C570.2,675.0 571.1,670.6 572.0,667.9 C572.9,665.2 573.7,663.4 574.5,663.1 C575.3,662.8 575.9,663.9 576.8,666.0 C577.7,668.1 578.6,672.1 579.7,675.6 C580.8,679.1 582.2,684.0 583.6,687.2 C585.0,690.4 586.8,693.0 588.4,694.9 C590.0,696.8 591.1,696.8 593.2,698.7 C595.3,700.6 597.7,705.0 600.9,706.4 C604.1,707.8 608.6,707.3 612.5,707.4 C616.4,707.5 620.8,707.5 624.0,707.0 C627.2,706.5 629.3,705.2 632.0,704.5 C634.7,703.8 637.9,702.9 640.0,702.5 C642.1,702.1 643.6,703.4 644.9,702.3 C646.2,701.2 647.0,698.2 648.0,696.0 C649.0,693.8 650.1,690.8 651.0,689.0 C651.9,687.2 652.7,686.3 653.5,685.5 C654.3,684.7 654.9,684.0 655.6,684.4 C656.3,684.8 656.9,685.9 657.5,688.0 C658.1,690.1 658.5,694.0 659.0,697.0 C659.5,700.0 659.9,704.5 660.6,706.0 C661.3,707.5 662.0,706.8 663.0,706.0 C664.0,705.2 665.2,701.8 666.3,701.5 C667.4,701.2 668.6,703.3 669.6,704.5 C670.6,705.7 670.4,707.8 672.1,708.5 C673.8,709.2 677.0,708.6 680.0,708.5 C683.0,708.4 686.8,708.8 690.0,708.0 C693.2,707.2 696.5,705.3 699.4,703.5 C702.2,701.7 703.6,698.6 707.1,697.0 C710.6,695.4 716.8,694.9 720.6,694.1 C724.5,693.3 727.7,693.5 730.2,692.2 C732.8,690.9 734.1,687.5 735.9,686.1 C737.7,684.7 739.8,684.2 741.2,683.9 C742.6,683.6 743.5,683.6 744.5,684.5 C745.5,685.4 746.3,687.7 747.5,689.3 C748.7,690.9 750.0,692.1 751.8,694.0 C753.6,695.9 755.8,698.9 758.2,700.5 C760.6,702.1 763.9,702.8 766.0,703.5 C768.1,704.2 768.9,704.3 771.0,704.7 C773.1,705.1 776.0,705.4 778.7,705.8 C781.5,706.2 784.8,707.2 787.5,707.2 C790.2,707.2 792.5,706.5 795.0,706.0 C797.5,705.5 800.5,704.5 802.8,704.0 C805.1,703.5 807.0,703.0 809.0,703.0 C811.0,703.0 812.1,703.4 815.1,703.8 C818.1,704.2 825.0,705.0 827.0,705.3" fill="none" stroke="#1010f0" stroke-width="2.40" stroke-linejoin="round" stroke-linecap="round"/>
<path d="M71.0,706.0 C71.8,705.8 74.4,705.8 76.0,704.5 C77.6,703.2 78.5,701.8 80.4,698.2 C82.3,694.6 85.3,692.2 87.5,683.0 C89.7,673.8 91.6,658.3 93.4,643.0 C95.2,627.7 96.7,603.8 98.1,591.2 C99.5,578.6 100.2,574.3 101.6,567.6 C103.0,560.9 104.9,555.7 106.3,551.2 C107.7,546.7 108.9,542.8 109.8,540.6 C110.7,538.4 110.9,537.8 111.5,538.2 C112.1,538.6 112.5,537.7 113.4,543.0 C114.3,548.3 115.7,559.2 116.9,570.0 C118.1,580.8 119.2,595.8 120.4,607.6 C121.6,619.4 122.7,632.8 123.9,640.6 C125.1,648.5 125.9,651.6 127.5,654.7 C129.1,657.8 131.5,656.6 133.4,659.4 C135.3,662.1 137.0,667.3 139.2,671.2 C141.3,675.1 144.3,680.5 146.3,683.0 C148.3,685.5 149.6,685.7 151.0,686.5 C152.4,687.3 153.3,687.4 154.7,687.8 C156.1,688.2 158.0,689.2 159.4,689.0 C160.8,688.8 161.6,688.6 163.0,686.6 C164.4,684.6 165.9,680.7 167.7,677.2 C169.5,673.7 171.8,670.1 173.6,665.4 C175.4,660.7 177.0,654.0 178.3,648.9 C179.6,643.8 180.4,638.7 181.2,634.8 C182.0,630.9 182.4,627.4 183.0,625.3 C183.6,623.2 184.0,622.4 184.8,622.4 C185.6,622.4 186.5,624.2 187.7,625.3 C188.9,626.4 190.4,628.8 191.8,628.9 C193.2,629.0 194.6,626.9 196.0,625.9 C197.4,624.9 198.9,623.2 200.1,623.0 C201.3,622.8 201.7,623.4 203.0,624.8 C204.3,626.2 205.9,629.2 207.7,631.2 C209.5,633.2 211.6,635.5 213.6,637.1 C215.6,638.7 217.5,639.7 219.5,640.7 C221.5,641.7 223.7,642.2 225.4,643.0 C227.2,643.8 227.7,644.4 230.0,645.4 C232.3,646.4 236.2,648.2 239.0,648.9 C241.8,649.6 244.1,648.4 246.7,649.8 C249.3,651.2 251.8,654.6 254.4,657.5 C257.0,660.4 259.9,665.0 262.1,667.2 C264.4,669.5 266.0,671.3 267.9,671.0 C269.8,670.7 271.7,664.6 273.6,665.2 C275.5,665.9 277.5,671.4 279.4,674.9 C281.3,678.4 283.3,684.3 285.2,686.4 C287.1,688.5 289.4,687.4 291.0,687.4 C292.6,687.4 293.2,684.9 294.8,686.4 C296.4,687.9 298.8,694.2 300.6,696.1 C302.4,698.0 304.1,696.7 305.8,697.8 C307.5,698.9 309.0,700.8 310.6,702.6 C312.2,704.4 313.9,708.4 315.4,708.4 C316.8,708.4 318.0,705.8 319.3,702.6 C320.6,699.4 321.7,693.0 323.1,689.1 C324.5,685.2 326.3,680.5 327.9,679.5 C329.5,678.5 331.2,682.7 332.8,683.3 C334.4,683.9 335.7,684.3 337.6,683.3 C339.5,682.3 342.1,679.0 344.3,677.5 C346.6,676.0 348.9,674.6 351.1,674.6 C353.4,674.6 355.4,676.4 357.8,677.5 C360.2,678.6 362.9,679.9 365.5,681.4 C368.1,682.9 370.6,685.9 373.2,686.2 C375.8,686.5 378.6,685.1 380.9,683.3 C383.1,681.5 385.2,677.7 386.7,675.6 C388.1,673.5 388.6,670.5 389.6,670.8 C390.6,671.1 391.4,674.8 392.5,677.5 C393.6,680.2 395.0,685.0 396.3,687.2 C397.6,689.5 398.8,691.6 400.2,691.0 C401.6,690.4 403.6,690.0 405.0,683.3 C406.4,676.6 407.9,657.8 408.9,650.6 C409.9,643.4 410.2,640.0 410.8,640.0 C411.4,640.0 411.9,644.4 412.7,650.6 C413.5,656.9 414.5,671.1 415.6,677.5 C416.8,683.9 418.0,687.3 419.6,689.1 C421.2,690.9 423.5,688.6 425.4,688.1 C427.3,687.6 429.3,687.3 431.2,686.2 C433.1,685.1 435.4,682.7 437.0,681.4 C438.6,680.1 439.4,678.7 440.8,678.5 C442.2,678.3 444.0,681.2 445.6,680.4 C447.2,679.6 448.7,675.8 450.5,673.7 C452.3,671.6 454.4,668.4 456.2,667.9 C458.0,667.4 459.5,669.0 461.1,670.8 C462.7,672.6 464.1,675.9 465.9,678.5 C467.7,681.1 469.9,684.8 471.7,686.2 C473.5,687.7 474.9,687.5 476.5,687.2 C478.1,686.9 479.5,684.5 481.3,684.3 C483.1,684.1 485.2,685.6 487.1,686.2 C489.0,686.8 490.8,687.3 492.9,688.1 C495.0,688.9 497.7,691.1 499.6,691.0 C501.5,690.9 502.9,689.1 504.4,687.2 C505.8,685.3 507.2,681.8 508.3,679.5 C509.4,677.2 510.2,674.0 511.2,673.7 C512.1,673.4 513.0,675.2 514.0,677.5 C515.0,679.8 515.8,685.3 516.9,687.2 C518.0,689.1 519.6,689.6 520.8,689.1 C522.0,688.6 522.8,685.6 523.9,684.3 C525.0,682.9 526.4,680.9 527.7,681.0 C529.0,681.1 530.2,682.9 531.6,685.2 C533.0,687.5 534.5,692.3 536.4,694.9 C538.3,697.5 540.7,698.9 543.1,700.7 C545.5,702.5 548.2,704.5 550.8,705.5 C553.4,706.5 555.9,707.5 558.5,706.4 C561.1,705.3 564.0,701.3 566.2,698.7 C568.5,696.1 570.5,692.9 572.0,691.0 C573.5,689.1 573.6,687.8 574.9,687.6 C576.2,687.4 577.9,689.1 579.7,690.0 C581.5,690.9 583.6,691.7 585.5,693.0 C587.4,694.3 589.4,696.2 591.3,697.8 C593.2,699.4 594.9,701.2 597.1,702.6 C599.4,704.0 602.2,705.4 604.8,706.4 C607.4,707.4 609.9,708.1 612.5,708.4 C615.1,708.7 617.6,708.7 620.2,708.4 C622.8,708.1 626.1,706.8 627.9,706.4 C629.7,706.0 629.9,706.5 631.0,706.0 C632.1,705.5 633.3,704.2 634.5,703.5 C635.7,702.8 637.0,701.7 638.3,701.5 C639.5,701.3 640.9,702.0 642.0,702.2 C643.1,702.4 644.0,702.9 644.9,702.6 C645.8,702.3 646.5,701.4 647.2,700.3 C647.9,699.2 648.4,697.9 649.2,696.0 C650.0,694.1 651.1,689.6 651.9,689.0 C652.7,688.4 653.0,690.2 653.9,692.5 C654.8,694.8 656.3,700.5 657.2,702.9 C658.1,705.3 658.8,706.2 659.5,707.0 C660.2,707.8 660.7,708.2 661.4,707.8 C662.1,707.4 662.7,705.7 663.5,704.5 C664.3,703.3 665.5,701.0 666.3,700.5 C667.0,700.0 667.5,701.0 668.0,701.5 C668.5,702.0 668.9,702.7 669.6,703.8 C670.3,704.9 670.5,707.5 672.1,708.2 C673.8,708.9 676.9,708.1 679.5,707.9 C682.1,707.7 685.3,707.5 687.8,707.1 C690.3,706.8 692.5,706.8 694.4,705.8 C696.3,704.8 697.3,702.9 699.4,701.3 C701.5,699.7 704.5,697.3 707.1,696.1 C709.7,694.9 712.2,694.8 714.8,694.1 C717.4,693.5 719.9,693.5 722.5,692.2 C725.1,690.9 728.0,688.3 730.2,686.4 C732.4,684.5 734.2,682.0 735.9,680.7 C737.5,679.4 738.7,678.8 740.1,678.6 C741.5,678.4 743.0,678.2 744.4,679.6 C745.8,681.0 746.9,684.3 748.7,687.1 C750.5,689.9 752.6,694.0 755.1,696.5 C757.6,699.0 760.8,701.0 763.7,702.3 C766.6,703.5 769.1,703.5 772.3,704.0 C775.5,704.5 780.1,704.9 783.0,705.3 C785.9,705.7 786.9,706.3 789.4,706.2 C791.9,706.1 795.1,705.1 798.0,704.5 C800.9,703.9 804.1,702.6 806.6,702.3 C809.1,702.0 810.9,702.1 813.0,702.5 C815.1,702.9 817.1,704.0 819.4,704.5 C821.7,705.0 825.7,705.3 827.0,705.5" fill="none" stroke="#ee1010" stroke-width="2.40" stroke-linejoin="round" stroke-linecap="round"/>
<text x="92.8" y="42.6" font-size="23.7" font-weight="bold" fill="#000" text-anchor="start">W control</text>
<text x="93.0" y="74.5" font-size="23.5" font-weight="bold" fill="#22ee22" text-anchor="start">W CL 15.8 %</text>
<text x="93.0" y="105.2" font-size="23.5" font-weight="bold" fill="#1010f0" text-anchor="start">W CL&#160;&#160;26.6 %</text>
<text x="93.0" y="133.7" font-size="23.5" font-weight="bold" fill="#ee1010" text-anchor="start">W M 12.7 %</text>
<text x="141.8" y="163.5" font-size="17.0" stroke="#222" stroke-width="0.3" fill="#222" text-anchor="middle">*</text>
<text x="141.5" y="187.7" font-size="20.4" stroke="#222" stroke-width="0.3" fill="#222" text-anchor="middle">1725</text>
<line x1="169.8" y1="182.1" x2="194.1" y2="183.7" stroke="#2a2a2a" stroke-width="1.35"/>
<text x="305.7" y="39.5" font-size="20.4" font-weight="bold" fill="#111" text-anchor="middle">&#946;</text>
<text x="309.8" y="62.5" font-size="20.4" stroke="#222" stroke-width="0.3" fill="#222" text-anchor="middle">1673</text>
<line x1="334.2" y1="37.1" x2="367.9" y2="56.8" stroke="#2a2a2a" stroke-width="1.35"/>
<text x="483.4" y="35.0" font-size="20.4" font-weight="bold" fill="#111" text-anchor="middle">&#945;</text>
<text x="488.2" y="58.3" font-size="20.4" stroke="#222" stroke-width="0.3" fill="#222" text-anchor="middle">1655</text>
<text x="545.4" y="80.6" font-size="20.4" font-weight="bold" fill="#111" text-anchor="middle">Y, F, W</text>
<text x="547.6" y="101.8" font-size="20.4" stroke="#222" stroke-width="0.3" fill="#222" text-anchor="middle">1614</text>
<line x1="549.0" y1="108.4" x2="557.9" y2="130.8" stroke="#2a2a2a" stroke-width="1.35"/>
<text x="609.7" y="40.3" font-size="20.4" font-weight="bold" fill="#111" text-anchor="middle">pY</text>
<text x="611.2" y="63.6" font-size="20.4" stroke="#222" stroke-width="0.3" fill="#222" text-anchor="middle">1601</text>
<text x="680.5" y="103.0" font-size="20.4" font-weight="bold" fill="#111" text-anchor="middle">F</text>
<text x="681.0" y="126.0" font-size="20.4" stroke="#222" stroke-width="0.3" fill="#222" text-anchor="middle">1588</text>
<line x1="677.4" y1="136.6" x2="658.5" y2="172.9" stroke="#2a2a2a" stroke-width="1.35"/>
<text x="598.5" y="215.9" font-size="20.4" font-weight="bold" fill="#111" text-anchor="middle">F, W</text>
<text x="598.3" y="239.1" font-size="20.4" stroke="#222" stroke-width="0.3" fill="#222" text-anchor="middle">1607</text>
<line x1="588.1" y1="159.6" x2="593.8" y2="191.7" stroke="#2a2a2a" stroke-width="1.35"/>
<text x="766.3" y="164.9" font-size="20.4" font-weight="bold" fill="#111" text-anchor="middle">W</text>
<text x="765.9" y="187.9" font-size="20.4" stroke="#222" stroke-width="0.3" fill="#222" text-anchor="middle">1553</text>
<text x="213.7" y="266.3" font-size="20.4" stroke="#222" stroke-width="0.3" fill="#222" text-anchor="middle">1721</text>
<text x="294.2" y="268.4" font-size="20.4" stroke="#222" stroke-width="0.3" fill="#222" text-anchor="middle">1698</text>
<text x="485.0" y="226.0" font-size="20.4" stroke="#222" stroke-width="0.3" fill="#222" text-anchor="middle">1638</text>
<text x="220.5" y="373.8" font-size="20.4" stroke="#222" stroke-width="0.3" fill="#222" text-anchor="middle">1719</text>
<text x="318.5" y="366.0" font-size="20.4" stroke="#222" stroke-width="0.3" fill="#222" text-anchor="middle">1690</text>
<text x="485.1" y="330.8" font-size="20.4" stroke="#222" stroke-width="0.3" fill="#222" text-anchor="middle">1640</text>
<text x="669.8" y="293.9" font-size="24.0" font-weight="bold" fill="#14148a" text-anchor="start">Phosmer CL</text>
<text x="669.8" y="388.0" font-size="24.0" font-weight="bold" fill="#128a12" text-anchor="start">Phosmer M</text>
<text x="139.2" y="485.0" font-size="17.0" stroke="#222" stroke-width="0.3" fill="#222" text-anchor="middle">*</text>
<text x="139.1" y="512.1" font-size="20.4" stroke="#222" stroke-width="0.3" fill="#222" text-anchor="middle">1451</text>
<text transform="translate(86.3,589.3) rotate(-90)" font-size="20.4" fill="#222" stroke="#222" stroke-width="0.3" textLength="41.5" lengthAdjust="spacingAndGlyphs">1485</text>
<text x="74.9" y="610.5" font-size="15.0" stroke="#222" stroke-width="0.3" fill="#222" text-anchor="middle">*</text>
<line x1="80.5" y1="612.3" x2="80.5" y2="690.7" stroke="#2a2a2a" stroke-width="1.35"/>
<text x="148.1" y="617.0" font-size="20.4" font-weight="bold" fill="#111" text-anchor="middle">S</text>
<text x="147.4" y="638.8" font-size="20.4" stroke="#222" stroke-width="0.3" fill="#222" text-anchor="middle">1398</text>
<line x1="150.7" y1="644.4" x2="150.7" y2="675.3" stroke="#2a2a2a" stroke-width="1.35"/>
<text x="125.6" y="708.2" font-size="20.4" stroke="#222" stroke-width="0.3" fill="#222" text-anchor="middle">1443</text>
<line x1="126.0" y1="713.8" x2="117.7" y2="762.5" stroke="#2a2a2a" stroke-width="1.35"/>
<text x="97.0" y="729.5" font-size="20.4" stroke="#222" stroke-width="0.3" fill="#222" text-anchor="middle">1459</text>
<text x="150.0" y="729.5" font-size="20.4" stroke="#222" stroke-width="0.3" fill="#222" text-anchor="middle">1407</text>
<line x1="95.8" y1="735.4" x2="104.0" y2="759.0" stroke="#2a2a2a" stroke-width="1.35"/>
<line x1="151.2" y1="735.4" x2="140.6" y2="749.5" stroke="#2a2a2a" stroke-width="1.35"/>
<text x="228.4" y="583.5" font-size="20.4" font-weight="bold" fill="#111" text-anchor="middle">&#945;</text>
<text x="231.2" y="603.6" font-size="20.4" stroke="#222" stroke-width="0.3" fill="#222" text-anchor="middle">1272</text>
<line x1="231.2" y1="606.5" x2="229.3" y2="636.3" stroke="#2a2a2a" stroke-width="1.35"/>
<text x="268.8" y="553.5" font-size="20.4" font-weight="bold" fill="#111" text-anchor="middle">Un</text>
<text x="271.7" y="575.6" font-size="20.4" stroke="#222" stroke-width="0.3" fill="#222" text-anchor="middle">1249</text>
<line x1="273.6" y1="579.5" x2="249.5" y2="643.1" stroke="#2a2a2a" stroke-width="1.35"/>
<text x="289.0" y="603.0" font-size="17.0" stroke="#222" stroke-width="0.3" fill="#222" text-anchor="middle">*</text>
<text x="291.0" y="627.7" font-size="20.4" stroke="#222" stroke-width="0.3" fill="#222" text-anchor="middle">1127</text>
<line x1="287.1" y1="634.4" x2="324.1" y2="657.3" stroke="#2a2a2a" stroke-width="1.35"/>
<text x="330.8" y="583.5" font-size="20.4" font-weight="bold" fill="#111" text-anchor="middle">S-O</text>
<text x="331.8" y="606.2" font-size="20.4" stroke="#222" stroke-width="0.3" fill="#222" text-anchor="middle">1094</text>
<line x1="331.8" y1="611.1" x2="351.1" y2="660.2" stroke="#2a2a2a" stroke-width="1.35"/>
<text x="381.4" y="624.5" font-size="20.4" font-weight="bold" fill="#111" text-anchor="middle">CA</text>
<text x="380.4" y="647.7" font-size="20.4" stroke="#222" stroke-width="0.3" fill="#222" text-anchor="middle">1037</text>
<text x="412.4" y="562.0" font-size="20.4" font-weight="bold" fill="#111" text-anchor="middle">F</text>
<text x="414.8" y="583.1" font-size="20.4" stroke="#222" stroke-width="0.3" fill="#222" text-anchor="middle">1004</text>
<line x1="413.9" y1="587.0" x2="411.0" y2="635.1" stroke="#2a2a2a" stroke-width="1.35"/>
<text x="451.4" y="639.3" font-size="20.4" font-weight="bold" fill="#111" text-anchor="middle">&#945;</text>
<text x="455.0" y="658.6" font-size="20.4" stroke="#222" stroke-width="0.3" fill="#222" text-anchor="middle">936</text>
<text x="488.0" y="596.0" font-size="20.4" font-weight="bold" fill="#111" text-anchor="middle">Y</text>
<text x="490.4" y="618.8" font-size="20.4" stroke="#222" stroke-width="0.3" fill="#222" text-anchor="middle">854</text>
<line x1="491.9" y1="625.5" x2="506.3" y2="666.0" stroke="#2a2a2a" stroke-width="1.35"/>
<text x="527.7" y="623.0" font-size="20.4" font-weight="bold" fill="#111" text-anchor="middle">Y</text>
<text x="530.0" y="645.7" font-size="20.4" stroke="#222" stroke-width="0.3" fill="#222" text-anchor="middle">829</text>
<line x1="528.7" y1="652.5" x2="528.7" y2="670.8" stroke="#2a2a2a" stroke-width="1.35"/>
<text x="574.9" y="630.0" font-size="17.0" stroke="#222" stroke-width="0.3" fill="#222" text-anchor="middle">*</text>
<text x="575.4" y="654.4" font-size="20.4" stroke="#222" stroke-width="0.3" fill="#222" text-anchor="middle">760</text>
<text x="608.2" y="643.5" font-size="17.0" stroke="#222" stroke-width="0.3" fill="#222" text-anchor="middle">*</text>
<text x="609.1" y="669.8" font-size="20.4" stroke="#222" stroke-width="0.3" fill="#222" text-anchor="middle">705</text>
<line x1="609.6" y1="673.7" x2="612.5" y2="696.8" stroke="#2a2a2a" stroke-width="1.35"/>
<text x="637.7" y="606.0" font-size="20.4" font-weight="bold" fill="#111" text-anchor="middle">Y</text>
<text x="640.0" y="627.7" font-size="20.4" stroke="#222" stroke-width="0.3" fill="#222" text-anchor="middle">644</text>
<line x1="640.6" y1="637.3" x2="656.0" y2="675.8" stroke="#2a2a2a" stroke-width="1.35"/>
<text x="676.2" y="623.3" font-size="20.4" font-weight="bold" fill="#111" text-anchor="middle">F</text>
<text x="679.6" y="646.9" font-size="20.4" stroke="#222" stroke-width="0.3" fill="#222" text-anchor="middle">622</text>
<line x1="677.2" y1="655.2" x2="668.5" y2="694.1" stroke="#2a2a2a" stroke-width="1.35"/>
<text x="702.6" y="572.6" font-size="19.5" font-weight="bold" fill="#111" text-anchor="middle">S</text>
<text x="715.8" y="572.6" font-size="19.5" font-weight="bold" fill="#111" text-anchor="middle">S</text>
<text x="709.0" y="594.5" font-size="20.4" font-weight="bold" fill="#111" text-anchor="middle">tgt</text>
<text x="709.0" y="619.0" font-size="20.4" stroke="#222" stroke-width="0.3" fill="#222" text-anchor="middle">520</text>
<line x1="707.1" y1="626.7" x2="714.8" y2="684.5" stroke="#2a2a2a" stroke-width="1.35"/>
<text x="742.6" y="545.2" font-size="19.5" font-weight="bold" fill="#111" text-anchor="middle">S</text>
<text x="756.2" y="545.2" font-size="19.5" font-weight="bold" fill="#111" text-anchor="middle">S</text>
<text x="748.7" y="566.5" font-size="20.4" font-weight="bold" fill="#111" text-anchor="middle">ggg</text>
<text x="748.7" y="590.7" font-size="20.4" stroke="#222" stroke-width="0.3" fill="#222" text-anchor="middle">510</text>
<line x1="746.1" y1="598.2" x2="741.2" y2="670.0" stroke="#2a2a2a" stroke-width="1.35"/>
<text x="799.0" y="611.3" font-size="20.4" font-weight="bold" fill="#111" text-anchor="middle">S-O</text>
<text x="799.0" y="633.6" font-size="20.4" stroke="#222" stroke-width="0.3" fill="#222" text-anchor="middle">412</text>
<line x1="798.0" y1="642.1" x2="807.0" y2="691.4" stroke="#2a2a2a" stroke-width="1.35"/>
<text x="478.6" y="738.2" font-size="20.4" stroke="#222" stroke-width="0.3" fill="#222" text-anchor="middle">902</text>
<text x="506.9" y="756.6" font-size="20.4" stroke="#222" stroke-width="0.3" fill="#222" text-anchor="middle">855</text>
<line x1="509.7" y1="760.1" x2="509.7" y2="775.9" stroke="#2a2a2a" stroke-width="1.35"/>
<text x="531.6" y="734.2" font-size="20.4" stroke="#222" stroke-width="0.3" fill="#222" text-anchor="middle">817</text>
<line x1="529.3" y1="738.9" x2="529.3" y2="770.8" stroke="#2a2a2a" stroke-width="1.35"/>
<text x="572.3" y="731.8" font-size="20.4" stroke="#222" stroke-width="0.3" fill="#222" text-anchor="middle">761</text>
<text x="614.8" y="738.9" font-size="20.4" stroke="#222" stroke-width="0.3" fill="#222" text-anchor="middle">705</text>
<text x="680.3" y="769.9" font-size="20.4" stroke="#222" stroke-width="0.3" fill="#222" text-anchor="middle">603</text>
<text x="134.1" y="812.0" font-size="20.4" stroke="#222" stroke-width="0.3" fill="#222" text-anchor="middle">1406</text>
<text x="109.9" y="833.3" font-size="20.4" stroke="#222" stroke-width="0.3" fill="#222" text-anchor="middle">1459</text>
<text x="509.2" y="822.6" font-size="20.4" stroke="#222" stroke-width="0.3" fill="#222" text-anchor="middle">855</text>
<line x1="510.0" y1="832.0" x2="510.0" y2="854.5" stroke="#2a2a2a" stroke-width="1.35"/>
<text x="481.0" y="847.4" font-size="20.4" stroke="#222" stroke-width="0.3" fill="#222" text-anchor="middle">900</text>
<text x="560.5" y="849.8" font-size="20.4" stroke="#222" stroke-width="0.3" fill="#222" text-anchor="middle">778</text>
<text x="679.2" y="853.9" font-size="20.4" stroke="#222" stroke-width="0.3" fill="#222" text-anchor="middle">603</text>
</svg>
</body></html>
